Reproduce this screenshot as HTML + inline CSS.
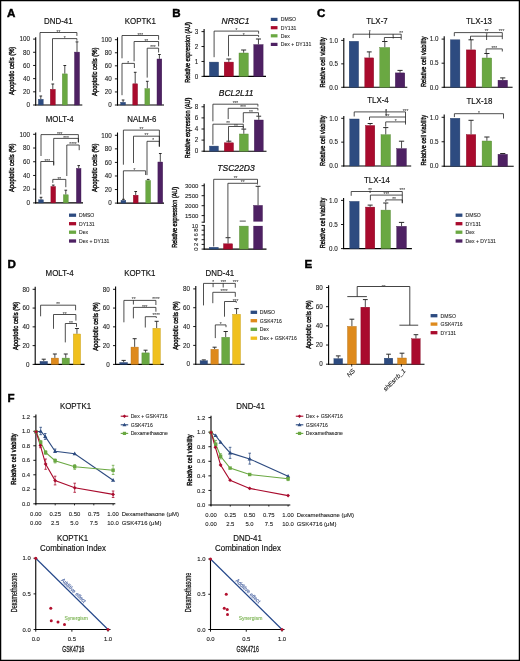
<!DOCTYPE html>
<html><head><meta charset="utf-8"><style>
html,body{margin:0;padding:0;background:#fff;}
svg{display:block;font-family:"Liberation Sans", sans-serif;will-change:transform;}
</style></head><body>
<svg width="520" height="661" viewBox="0 0 520 661">
<rect x="0" y="0" width="520" height="661" fill="#fff"/>
<text x="6.9" y="16.7" font-size="11.6" fill="#000" stroke="#000" stroke-width="0.45" font-weight="bold">A</text>
<text transform="translate(58.3,24) scale(0.915,1)" font-size="8.65" text-anchor="middle" fill="#111" stroke="#111" stroke-width="0.16">DND-41</text>
<line x1="35.7" y1="37.3" x2="35.7" y2="105.5" stroke="#000" stroke-width="1.1"/>
<line x1="33.1" y1="105" x2="35.7" y2="105" stroke="#000" stroke-width="0.9"/>
<text x="29.9" y="107.27" font-size="6.3" text-anchor="end" fill="#222" stroke="#222" stroke-width="0.1">0</text>
<line x1="33.1" y1="91.82" x2="35.7" y2="91.82" stroke="#000" stroke-width="0.9"/>
<text x="29.9" y="94.09" font-size="6.3" text-anchor="end" fill="#222" stroke="#222" stroke-width="0.1">20</text>
<line x1="33.1" y1="78.64" x2="35.7" y2="78.64" stroke="#000" stroke-width="0.9"/>
<text x="29.9" y="80.91" font-size="6.3" text-anchor="end" fill="#222" stroke="#222" stroke-width="0.1">40</text>
<line x1="33.1" y1="65.46" x2="35.7" y2="65.46" stroke="#000" stroke-width="0.9"/>
<text x="29.9" y="67.73" font-size="6.3" text-anchor="end" fill="#222" stroke="#222" stroke-width="0.1">60</text>
<line x1="33.1" y1="52.28" x2="35.7" y2="52.28" stroke="#000" stroke-width="0.9"/>
<text x="29.9" y="54.55" font-size="6.3" text-anchor="end" fill="#222" stroke="#222" stroke-width="0.1">80</text>
<line x1="33.1" y1="39.1" x2="35.7" y2="39.1" stroke="#000" stroke-width="0.9"/>
<text x="29.9" y="41.37" font-size="6.3" text-anchor="end" fill="#222" stroke="#222" stroke-width="0.1">100</text>
<line x1="35.15" y1="105" x2="82.3" y2="105" stroke="#000" stroke-width="1.1"/>
<text transform="translate(11.7,70.9) rotate(-90) scale(0.792,1)" y="2.66" font-size="7.4" text-anchor="middle" fill="#111" stroke="#111" stroke-width="0.42">Apoptotic cells (%)</text>
<line x1="40.8" y1="96" x2="40.8" y2="99.1" stroke="#2a2a2a" stroke-width="0.85"/>
<line x1="39.45" y1="96" x2="42.15" y2="96" stroke="#2a2a2a" stroke-width="1.0"/>
<rect x="38.4" y="99.3" width="4.8" height="5.7" fill="#2d4b80" stroke="#243c66" stroke-width="0.4"/>
<line x1="52.8" y1="84" x2="52.8" y2="89.1" stroke="#2a2a2a" stroke-width="0.85"/>
<line x1="51.4" y1="84" x2="54.2" y2="84" stroke="#2a2a2a" stroke-width="1.0"/>
<rect x="50.3" y="89.3" width="5" height="15.7" fill="#a90b2d" stroke="#870824" stroke-width="0.4"/>
<line x1="64.8" y1="65.5" x2="64.8" y2="73.7" stroke="#2a2a2a" stroke-width="0.85"/>
<line x1="63.4" y1="65.5" x2="66.2" y2="65.5" stroke="#2a2a2a" stroke-width="1.0"/>
<rect x="62.3" y="73.9" width="5" height="31.1" fill="#6aa842" stroke="#548634" stroke-width="0.4"/>
<line x1="77" y1="41.9" x2="77" y2="51.9" stroke="#2a2a2a" stroke-width="0.85"/>
<line x1="75.6" y1="41.9" x2="78.4" y2="41.9" stroke="#2a2a2a" stroke-width="1.0"/>
<rect x="74.5" y="52.1" width="5" height="52.9" fill="#4e2163" stroke="#3e1a4f" stroke-width="0.4"/>
<polyline points="40,92.1 40,32.5 76.9,32.5 76.9,35.9" fill="none" stroke="#222222" stroke-width="0.8"/>
<text x="58.45" y="33.6" font-size="4.7" text-anchor="middle" fill="#4a4a4a" stroke="#4a4a4a" stroke-width="0.08">**</text>
<polyline points="52.5,80.6 52.5,38.6 76.9,38.6 76.9,40.7" fill="none" stroke="#222222" stroke-width="0.8"/>
<text x="64.7" y="39.7" font-size="4.7" text-anchor="middle" fill="#4a4a4a" stroke="#4a4a4a" stroke-width="0.08">*</text>
<text transform="translate(140.4,24) scale(0.915,1)" font-size="8.65" text-anchor="middle" fill="#111" stroke="#111" stroke-width="0.16">KOPTK1</text>
<line x1="117.5" y1="37.3" x2="117.5" y2="105.5" stroke="#000" stroke-width="1.1"/>
<line x1="114.9" y1="105" x2="117.5" y2="105" stroke="#000" stroke-width="0.9"/>
<text x="111.7" y="107.27" font-size="6.3" text-anchor="end" fill="#222" stroke="#222" stroke-width="0.1">0</text>
<line x1="114.9" y1="91.94" x2="117.5" y2="91.94" stroke="#000" stroke-width="0.9"/>
<text x="111.7" y="94.21" font-size="6.3" text-anchor="end" fill="#222" stroke="#222" stroke-width="0.1">20</text>
<line x1="114.9" y1="78.88" x2="117.5" y2="78.88" stroke="#000" stroke-width="0.9"/>
<text x="111.7" y="81.15" font-size="6.3" text-anchor="end" fill="#222" stroke="#222" stroke-width="0.1">40</text>
<line x1="114.9" y1="65.82" x2="117.5" y2="65.82" stroke="#000" stroke-width="0.9"/>
<text x="111.7" y="68.09" font-size="6.3" text-anchor="end" fill="#222" stroke="#222" stroke-width="0.1">60</text>
<line x1="114.9" y1="52.76" x2="117.5" y2="52.76" stroke="#000" stroke-width="0.9"/>
<text x="111.7" y="55.03" font-size="6.3" text-anchor="end" fill="#222" stroke="#222" stroke-width="0.1">80</text>
<line x1="114.9" y1="39.7" x2="117.5" y2="39.7" stroke="#000" stroke-width="0.9"/>
<text x="111.7" y="41.97" font-size="6.3" text-anchor="end" fill="#222" stroke="#222" stroke-width="0.1">100</text>
<line x1="116.95" y1="105" x2="164" y2="105" stroke="#000" stroke-width="1.1"/>
<text transform="translate(94,71.8) rotate(-90) scale(0.792,1)" y="2.66" font-size="7.4" text-anchor="middle" fill="#111" stroke="#111" stroke-width="0.42">Apoptotic cells (%)</text>
<line x1="123.1" y1="100" x2="123.1" y2="102.1" stroke="#2a2a2a" stroke-width="0.85"/>
<line x1="121.75" y1="100" x2="124.45" y2="100" stroke="#2a2a2a" stroke-width="1.0"/>
<rect x="120.7" y="102.3" width="4.8" height="2.7" fill="#2d4b80" stroke="#243c66" stroke-width="0.4"/>
<line x1="135.2" y1="72.3" x2="135.2" y2="83.6" stroke="#2a2a2a" stroke-width="0.85"/>
<line x1="133.85" y1="72.3" x2="136.55" y2="72.3" stroke="#2a2a2a" stroke-width="1.0"/>
<rect x="132.8" y="83.8" width="4.8" height="21.2" fill="#a90b2d" stroke="#870824" stroke-width="0.4"/>
<line x1="147.3" y1="81.3" x2="147.3" y2="88.4" stroke="#2a2a2a" stroke-width="0.85"/>
<line x1="145.95" y1="81.3" x2="148.65" y2="81.3" stroke="#2a2a2a" stroke-width="1.0"/>
<rect x="144.9" y="88.6" width="4.8" height="16.4" fill="#6aa842" stroke="#548634" stroke-width="0.4"/>
<line x1="159.4" y1="54.5" x2="159.4" y2="58.8" stroke="#2a2a2a" stroke-width="0.85"/>
<line x1="158.05" y1="54.5" x2="160.75" y2="54.5" stroke="#2a2a2a" stroke-width="1.0"/>
<rect x="157" y="59" width="4.8" height="46" fill="#4e2163" stroke="#3e1a4f" stroke-width="0.4"/>
<polyline points="122,58.3 122,35.5 158.6,35.5 158.6,39.8" fill="none" stroke="#222222" stroke-width="0.8"/>
<text x="140.3" y="36.6" font-size="4.7" text-anchor="middle" fill="#4a4a4a" stroke="#4a4a4a" stroke-width="0.08">***</text>
<polyline points="134.1,61.3 134.1,41.5 158.6,41.5 158.6,46.4" fill="none" stroke="#222222" stroke-width="0.8"/>
<text x="146.35" y="42.6" font-size="4.7" text-anchor="middle" fill="#4a4a4a" stroke="#4a4a4a" stroke-width="0.08">**</text>
<polyline points="147.2,77.6 147.2,48.2 158.6,48.2 158.6,52.5" fill="none" stroke="#222222" stroke-width="0.8"/>
<text x="152.9" y="49.3" font-size="4.7" text-anchor="middle" fill="#4a4a4a" stroke="#4a4a4a" stroke-width="0.08">***</text>
<polyline points="122,95.2 122,63.4 134.4,63.4 134.4,68" fill="none" stroke="#222222" stroke-width="0.8"/>
<text x="128.2" y="64.5" font-size="4.7" text-anchor="middle" fill="#4a4a4a" stroke="#4a4a4a" stroke-width="0.08">*</text>
<text transform="translate(59.7,121.8) scale(0.915,1)" font-size="8.65" text-anchor="middle" fill="#111" stroke="#111" stroke-width="0.16">MOLT-4</text>
<line x1="35.7" y1="132.5" x2="35.7" y2="203.4" stroke="#000" stroke-width="1.1"/>
<line x1="33.1" y1="202.9" x2="35.7" y2="202.9" stroke="#000" stroke-width="0.9"/>
<text x="29.9" y="205.17" font-size="6.3" text-anchor="end" fill="#222" stroke="#222" stroke-width="0.1">0</text>
<line x1="33.1" y1="189.18" x2="35.7" y2="189.18" stroke="#000" stroke-width="0.9"/>
<text x="29.9" y="191.45" font-size="6.3" text-anchor="end" fill="#222" stroke="#222" stroke-width="0.1">20</text>
<line x1="33.1" y1="175.46" x2="35.7" y2="175.46" stroke="#000" stroke-width="0.9"/>
<text x="29.9" y="177.73" font-size="6.3" text-anchor="end" fill="#222" stroke="#222" stroke-width="0.1">40</text>
<line x1="33.1" y1="161.74" x2="35.7" y2="161.74" stroke="#000" stroke-width="0.9"/>
<text x="29.9" y="164.01" font-size="6.3" text-anchor="end" fill="#222" stroke="#222" stroke-width="0.1">60</text>
<line x1="33.1" y1="148.02" x2="35.7" y2="148.02" stroke="#000" stroke-width="0.9"/>
<text x="29.9" y="150.29" font-size="6.3" text-anchor="end" fill="#222" stroke="#222" stroke-width="0.1">80</text>
<line x1="33.1" y1="134.3" x2="35.7" y2="134.3" stroke="#000" stroke-width="0.9"/>
<text x="29.9" y="136.57" font-size="6.3" text-anchor="end" fill="#222" stroke="#222" stroke-width="0.1">100</text>
<line x1="35.15" y1="202.9" x2="83" y2="202.9" stroke="#000" stroke-width="1.1"/>
<text transform="translate(11.7,167.7) rotate(-90) scale(0.792,1)" y="2.66" font-size="7.4" text-anchor="middle" fill="#111" stroke="#111" stroke-width="0.42">Apoptotic cells (%)</text>
<line x1="41" y1="197.3" x2="41" y2="199.6" stroke="#2a2a2a" stroke-width="0.85"/>
<line x1="39.65" y1="197.3" x2="42.35" y2="197.3" stroke="#2a2a2a" stroke-width="1.0"/>
<rect x="38.6" y="199.8" width="4.8" height="3.1" fill="#2d4b80" stroke="#243c66" stroke-width="0.4"/>
<line x1="53.25" y1="185.1" x2="53.25" y2="186.3" stroke="#2a2a2a" stroke-width="0.85"/>
<line x1="51.92" y1="185.1" x2="54.58" y2="185.1" stroke="#2a2a2a" stroke-width="1.0"/>
<rect x="50.9" y="186.5" width="4.7" height="16.4" fill="#a90b2d" stroke="#870824" stroke-width="0.4"/>
<line x1="65.8" y1="190.2" x2="65.8" y2="194.6" stroke="#2a2a2a" stroke-width="0.85"/>
<line x1="64.45" y1="190.2" x2="67.15" y2="190.2" stroke="#2a2a2a" stroke-width="1.0"/>
<rect x="63.4" y="194.8" width="4.8" height="8.1" fill="#6aa842" stroke="#548634" stroke-width="0.4"/>
<line x1="78.7" y1="165.6" x2="78.7" y2="168.2" stroke="#2a2a2a" stroke-width="0.85"/>
<line x1="77.4" y1="165.6" x2="80" y2="165.6" stroke="#2a2a2a" stroke-width="1.0"/>
<rect x="76.4" y="168.4" width="4.6" height="34.5" fill="#4e2163" stroke="#3e1a4f" stroke-width="0.4"/>
<polyline points="41,156 41,134.6 78.4,134.6 78.4,142.4" fill="none" stroke="#222222" stroke-width="0.8"/>
<text x="59.7" y="135.7" font-size="4.7" text-anchor="middle" fill="#4a4a4a" stroke="#4a4a4a" stroke-width="0.08">***</text>
<polyline points="53.7,164.7 53.7,138.4 78.4,138.4 78.4,142.4" fill="none" stroke="#222222" stroke-width="0.8"/>
<text x="66.05" y="139.5" font-size="4.7" text-anchor="middle" fill="#4a4a4a" stroke="#4a4a4a" stroke-width="0.08">***</text>
<polyline points="66.8,176 66.8,145 79.2,145 79.2,150.2" fill="none" stroke="#222222" stroke-width="0.8"/>
<text x="73" y="146.1" font-size="4.7" text-anchor="middle" fill="#4a4a4a" stroke="#4a4a4a" stroke-width="0.08">****</text>
<polyline points="40.8,194.4 40.8,161.5 53.7,161.5 53.7,165.6" fill="none" stroke="#222222" stroke-width="0.8"/>
<text x="47.25" y="162.6" font-size="4.7" text-anchor="middle" fill="#4a4a4a" stroke="#4a4a4a" stroke-width="0.08">***</text>
<polyline points="52.8,182.9 52.8,179.4 65.8,179.4 65.8,187.2" fill="none" stroke="#222222" stroke-width="0.8"/>
<text x="59.3" y="180.5" font-size="4.7" text-anchor="middle" fill="#4a4a4a" stroke="#4a4a4a" stroke-width="0.08">**</text>
<text transform="translate(141.8,121.8) scale(0.915,1)" font-size="8.65" text-anchor="middle" fill="#111" stroke="#111" stroke-width="0.16">NALM-6</text>
<line x1="117.5" y1="132.5" x2="117.5" y2="203.6" stroke="#000" stroke-width="1.1"/>
<line x1="114.9" y1="203.1" x2="117.5" y2="203.1" stroke="#000" stroke-width="0.9"/>
<text x="111.7" y="205.37" font-size="6.3" text-anchor="end" fill="#222" stroke="#222" stroke-width="0.1">0</text>
<line x1="114.9" y1="189.54" x2="117.5" y2="189.54" stroke="#000" stroke-width="0.9"/>
<text x="111.7" y="191.81" font-size="6.3" text-anchor="end" fill="#222" stroke="#222" stroke-width="0.1">20</text>
<line x1="114.9" y1="175.98" x2="117.5" y2="175.98" stroke="#000" stroke-width="0.9"/>
<text x="111.7" y="178.25" font-size="6.3" text-anchor="end" fill="#222" stroke="#222" stroke-width="0.1">40</text>
<line x1="114.9" y1="162.42" x2="117.5" y2="162.42" stroke="#000" stroke-width="0.9"/>
<text x="111.7" y="164.69" font-size="6.3" text-anchor="end" fill="#222" stroke="#222" stroke-width="0.1">60</text>
<line x1="114.9" y1="148.86" x2="117.5" y2="148.86" stroke="#000" stroke-width="0.9"/>
<text x="111.7" y="151.13" font-size="6.3" text-anchor="end" fill="#222" stroke="#222" stroke-width="0.1">80</text>
<line x1="114.9" y1="135.3" x2="117.5" y2="135.3" stroke="#000" stroke-width="0.9"/>
<text x="111.7" y="137.57" font-size="6.3" text-anchor="end" fill="#222" stroke="#222" stroke-width="0.1">100</text>
<line x1="116.95" y1="203.1" x2="164" y2="203.1" stroke="#000" stroke-width="1.1"/>
<text transform="translate(94,167.7) rotate(-90) scale(0.792,1)" y="2.66" font-size="7.4" text-anchor="middle" fill="#111" stroke="#111" stroke-width="0.42">Apoptotic cells (%)</text>
<line x1="123.4" y1="199.3" x2="123.4" y2="200.2" stroke="#2a2a2a" stroke-width="0.85"/>
<line x1="122.05" y1="199.3" x2="124.75" y2="199.3" stroke="#2a2a2a" stroke-width="1.0"/>
<rect x="121" y="200.4" width="4.8" height="2.7" fill="#2d4b80" stroke="#243c66" stroke-width="0.4"/>
<line x1="135.7" y1="191.5" x2="135.7" y2="195" stroke="#2a2a2a" stroke-width="0.85"/>
<line x1="134.35" y1="191.5" x2="137.05" y2="191.5" stroke="#2a2a2a" stroke-width="1.0"/>
<rect x="133.3" y="195.2" width="4.8" height="7.9" fill="#a90b2d" stroke="#870824" stroke-width="0.4"/>
<line x1="148.2" y1="179.4" x2="148.2" y2="180.3" stroke="#2a2a2a" stroke-width="0.85"/>
<line x1="146.85" y1="179.4" x2="149.55" y2="179.4" stroke="#2a2a2a" stroke-width="1.0"/>
<rect x="145.8" y="180.5" width="4.8" height="22.6" fill="#6aa842" stroke="#548634" stroke-width="0.4"/>
<line x1="160.3" y1="153.5" x2="160.3" y2="161.8" stroke="#2a2a2a" stroke-width="0.85"/>
<line x1="158.95" y1="153.5" x2="161.65" y2="153.5" stroke="#2a2a2a" stroke-width="1.0"/>
<rect x="157.9" y="162" width="4.8" height="41.1" fill="#4e2163" stroke="#3e1a4f" stroke-width="0.4"/>
<polyline points="123.4,164.7 123.4,130.1 159.4,130.1 159.4,146.5" fill="none" stroke="#222222" stroke-width="0.8"/>
<text x="141.4" y="131.2" font-size="4.7" text-anchor="middle" fill="#4a4a4a" stroke="#4a4a4a" stroke-width="0.08">**</text>
<polyline points="133.5,163 133.5,136.2 159.4,136.2 159.4,146.5" fill="none" stroke="#222222" stroke-width="0.8"/>
<text x="146.45" y="137.3" font-size="4.7" text-anchor="middle" fill="#4a4a4a" stroke="#4a4a4a" stroke-width="0.08">**</text>
<polyline points="147,175.1 147,141.3 159.4,141.3 159.4,146.5" fill="none" stroke="#222222" stroke-width="0.8"/>
<text x="153.2" y="142.4" font-size="4.7" text-anchor="middle" fill="#4a4a4a" stroke="#4a4a4a" stroke-width="0.08">*</text>
<polyline points="123.4,199.3 123.4,170.8 145.6,170.8 145.6,175" fill="none" stroke="#222222" stroke-width="0.8"/>
<text x="134.5" y="171.9" font-size="4.7" text-anchor="middle" fill="#4a4a4a" stroke="#4a4a4a" stroke-width="0.08">*</text>
<rect x="69" y="213.55" width="7.1" height="3.3" fill="#2d4b80"/>
<text x="79" y="217.04" font-size="5.1" fill="#222" stroke="#222" stroke-width="0.08">DMSO</text>
<rect x="69" y="222.05" width="7.1" height="3.3" fill="#a90b2d"/>
<text x="79" y="225.54" font-size="5.1" fill="#222" stroke="#222" stroke-width="0.08">DY131</text>
<rect x="69" y="230.55" width="7.1" height="3.3" fill="#6aa842"/>
<text x="79" y="234.04" font-size="5.1" fill="#222" stroke="#222" stroke-width="0.08">Dex</text>
<rect x="69" y="239.35" width="7.1" height="3.3" fill="#4e2163"/>
<text x="79" y="242.84" font-size="5.1" fill="#222" stroke="#222" stroke-width="0.08">Dex + DY131</text>
<text x="172.3" y="16.8" font-size="11.6" fill="#000" stroke="#000" stroke-width="0.45" font-weight="bold">B</text>
<text x="235.5" y="23.7" font-size="8.5" text-anchor="middle" fill="#111" stroke="#111" stroke-width="0.22" font-style="italic">NR3C1</text>
<line x1="204.1" y1="28.9" x2="204.1" y2="76.9" stroke="#000" stroke-width="1.1"/>
<line x1="201.5" y1="76.4" x2="204.1" y2="76.4" stroke="#000" stroke-width="0.9"/>
<text x="198.3" y="78.67" font-size="6.3" text-anchor="end" fill="#222" stroke="#222" stroke-width="0.1">0</text>
<line x1="201.5" y1="61.47" x2="204.1" y2="61.47" stroke="#000" stroke-width="0.9"/>
<text x="198.3" y="63.73" font-size="6.3" text-anchor="end" fill="#222" stroke="#222" stroke-width="0.1">1</text>
<line x1="201.5" y1="46.53" x2="204.1" y2="46.53" stroke="#000" stroke-width="0.9"/>
<text x="198.3" y="48.8" font-size="6.3" text-anchor="end" fill="#222" stroke="#222" stroke-width="0.1">2</text>
<line x1="201.5" y1="31.6" x2="204.1" y2="31.6" stroke="#000" stroke-width="0.9"/>
<text x="198.3" y="33.87" font-size="6.3" text-anchor="end" fill="#222" stroke="#222" stroke-width="0.1">3</text>
<line x1="203.55" y1="76.4" x2="266" y2="76.4" stroke="#000" stroke-width="1.1"/>
<text transform="translate(187,52.5) rotate(-90) scale(0.740,1)" y="2.66" font-size="7.4" text-anchor="middle" fill="#111" stroke="#111" stroke-width="0.42">Relative expression (AU)</text>
<rect x="209.4" y="62.1" width="9.2" height="14.3" fill="#2d4b80" stroke="#243c66" stroke-width="0.4"/>
<line x1="228.8" y1="59" x2="228.8" y2="61.9" stroke="#2a2a2a" stroke-width="0.85"/>
<line x1="226.3" y1="59" x2="231.3" y2="59" stroke="#2a2a2a" stroke-width="1.0"/>
<rect x="224.2" y="62.1" width="9.2" height="14.3" fill="#a90b2d" stroke="#870824" stroke-width="0.4"/>
<line x1="243.65" y1="50" x2="243.65" y2="52.8" stroke="#2a2a2a" stroke-width="0.85"/>
<line x1="241.13" y1="50" x2="246.17" y2="50" stroke="#2a2a2a" stroke-width="1.0"/>
<rect x="239" y="53" width="9.3" height="23.4" fill="#6aa842" stroke="#548634" stroke-width="0.4"/>
<line x1="258.45" y1="39" x2="258.45" y2="44.4" stroke="#2a2a2a" stroke-width="0.85"/>
<line x1="255.93" y1="39" x2="260.97" y2="39" stroke="#2a2a2a" stroke-width="1.0"/>
<rect x="253.8" y="44.6" width="9.3" height="31.8" fill="#4e2163" stroke="#3e1a4f" stroke-width="0.4"/>
<polyline points="214.1,57.2 214.1,31.1 258.6,31.1 258.6,33.7" fill="none" stroke="#222222" stroke-width="0.8"/>
<text x="236.35" y="32.2" font-size="4.7" text-anchor="middle" fill="#4a4a4a" stroke="#4a4a4a" stroke-width="0.08">*</text>
<polyline points="228.5,56.3 228.5,35.4 258.6,35.4 258.6,37.1" fill="none" stroke="#222222" stroke-width="0.8"/>
<text x="243.55" y="36.5" font-size="4.7" text-anchor="middle" fill="#4a4a4a" stroke="#4a4a4a" stroke-width="0.08">*</text>
<rect x="270.8" y="17.8" width="6.7" height="3.2" fill="#2d4b80"/>
<text x="280.8" y="21.24" font-size="5.1" fill="#222" stroke="#222" stroke-width="0.08">DMSO</text>
<rect x="270.8" y="26.1" width="6.7" height="3.2" fill="#a90b2d"/>
<text x="280.8" y="29.54" font-size="5.1" fill="#222" stroke="#222" stroke-width="0.08">DY131</text>
<rect x="270.8" y="34.2" width="6.7" height="3.2" fill="#6aa842"/>
<text x="280.8" y="37.64" font-size="5.1" fill="#222" stroke="#222" stroke-width="0.08">Dex</text>
<rect x="270.8" y="42.8" width="6.7" height="3.2" fill="#4e2163"/>
<text x="280.8" y="46.24" font-size="5.1" fill="#222" stroke="#222" stroke-width="0.08">Dex + DY131</text>
<text x="236.2" y="95.7" font-size="8.5" text-anchor="middle" fill="#111" stroke="#111" stroke-width="0.22" font-style="italic">BCL2L11</text>
<line x1="204.1" y1="104" x2="204.1" y2="151.7" stroke="#000" stroke-width="1.1"/>
<line x1="201.5" y1="151.2" x2="204.1" y2="151.2" stroke="#000" stroke-width="0.9"/>
<text x="198.3" y="153.47" font-size="6.3" text-anchor="end" fill="#222" stroke="#222" stroke-width="0.1">0</text>
<line x1="201.5" y1="140.1" x2="204.1" y2="140.1" stroke="#000" stroke-width="0.9"/>
<text x="198.3" y="142.37" font-size="6.3" text-anchor="end" fill="#222" stroke="#222" stroke-width="0.1">2</text>
<line x1="201.5" y1="129" x2="204.1" y2="129" stroke="#000" stroke-width="0.9"/>
<text x="198.3" y="131.27" font-size="6.3" text-anchor="end" fill="#222" stroke="#222" stroke-width="0.1">4</text>
<line x1="201.5" y1="117.9" x2="204.1" y2="117.9" stroke="#000" stroke-width="0.9"/>
<text x="198.3" y="120.17" font-size="6.3" text-anchor="end" fill="#222" stroke="#222" stroke-width="0.1">6</text>
<line x1="201.5" y1="106.8" x2="204.1" y2="106.8" stroke="#000" stroke-width="0.9"/>
<text x="198.3" y="109.07" font-size="6.3" text-anchor="end" fill="#222" stroke="#222" stroke-width="0.1">8</text>
<line x1="203.55" y1="151.2" x2="266.5" y2="151.2" stroke="#000" stroke-width="1.1"/>
<text transform="translate(186.9,128) rotate(-90) scale(0.740,1)" y="2.66" font-size="7.4" text-anchor="middle" fill="#111" stroke="#111" stroke-width="0.42">Relative expression (AU)</text>
<rect x="209.5" y="146.1" width="8.9" height="5.1" fill="#2d4b80" stroke="#243c66" stroke-width="0.4"/>
<line x1="228.9" y1="141.2" x2="228.9" y2="142.6" stroke="#2a2a2a" stroke-width="0.85"/>
<line x1="226.4" y1="141.2" x2="231.4" y2="141.2" stroke="#2a2a2a" stroke-width="1.0"/>
<rect x="224.3" y="142.8" width="9.2" height="8.4" fill="#a90b2d" stroke="#870824" stroke-width="0.4"/>
<line x1="243.8" y1="129.1" x2="243.8" y2="133.8" stroke="#2a2a2a" stroke-width="0.85"/>
<line x1="241.41" y1="129.1" x2="246.19" y2="129.1" stroke="#2a2a2a" stroke-width="1.0"/>
<rect x="239.4" y="134" width="8.8" height="17.2" fill="#6aa842" stroke="#548634" stroke-width="0.4"/>
<line x1="258.75" y1="116.2" x2="258.75" y2="119.8" stroke="#2a2a2a" stroke-width="0.85"/>
<line x1="256.33" y1="116.2" x2="261.17" y2="116.2" stroke="#2a2a2a" stroke-width="1.0"/>
<rect x="254.3" y="120" width="8.9" height="31.2" fill="#4e2163" stroke="#3e1a4f" stroke-width="0.4"/>
<polyline points="212.9,121.3 212.9,104.2 257.9,104.2 257.9,106.5" fill="none" stroke="#222222" stroke-width="0.8"/>
<text x="235.4" y="105.3" font-size="4.7" text-anchor="middle" fill="#4a4a4a" stroke="#4a4a4a" stroke-width="0.08">***</text>
<polyline points="228.2,119.1 228.2,108.3 257.9,108.3 257.9,110.4" fill="none" stroke="#222222" stroke-width="0.8"/>
<text x="243.05" y="109.4" font-size="4.7" text-anchor="middle" fill="#4a4a4a" stroke="#4a4a4a" stroke-width="0.08">***</text>
<polyline points="243.3,122.7 243.3,112.7 258.5,112.7 258.5,115.8" fill="none" stroke="#222222" stroke-width="0.8"/>
<text x="250.9" y="113.8" font-size="4.7" text-anchor="middle" fill="#4a4a4a" stroke="#4a4a4a" stroke-width="0.08">**</text>
<polyline points="212.9,144.7 212.9,124.2 243.3,124.2 243.3,127.7" fill="none" stroke="#222222" stroke-width="0.8"/>
<text x="228.1" y="125.3" font-size="4.7" text-anchor="middle" fill="#4a4a4a" stroke="#4a4a4a" stroke-width="0.08">**</text>
<polyline points="228.5,141.2 228.5,126.5 243.3,126.5 243.3,128.8" fill="none" stroke="#222222" stroke-width="0.8"/>
<text x="235.9" y="127.6" font-size="4.7" text-anchor="middle" fill="#4a4a4a" stroke="#4a4a4a" stroke-width="0.08">**</text>
<text x="236" y="170.9" font-size="8.5" text-anchor="middle" fill="#111" stroke="#111" stroke-width="0.22" font-style="italic">TSC22D3</text>
<line x1="204.2" y1="183.5" x2="204.2" y2="222.7" stroke="#000" stroke-width="1.1"/>
<line x1="201.6" y1="185.7" x2="204.2" y2="185.7" stroke="#000" stroke-width="0.9"/>
<text x="198.4" y="187.86" font-size="6.0" text-anchor="end" fill="#222" stroke="#222" stroke-width="0.1">3000</text>
<line x1="201.6" y1="195.7" x2="204.2" y2="195.7" stroke="#000" stroke-width="0.9"/>
<text x="198.4" y="197.86" font-size="6.0" text-anchor="end" fill="#222" stroke="#222" stroke-width="0.1">2500</text>
<line x1="201.6" y1="205.7" x2="204.2" y2="205.7" stroke="#000" stroke-width="0.9"/>
<text x="198.4" y="207.86" font-size="6.0" text-anchor="end" fill="#222" stroke="#222" stroke-width="0.1">2000</text>
<line x1="201.6" y1="215.6" x2="204.2" y2="215.6" stroke="#000" stroke-width="0.9"/>
<text x="198.4" y="217.76" font-size="6.0" text-anchor="end" fill="#222" stroke="#222" stroke-width="0.1">1500</text>
<line x1="201.6" y1="222.2" x2="204.2" y2="222.2" stroke="#000" stroke-width="0.9"/>
<line x1="204.2" y1="225.1" x2="204.2" y2="249.6" stroke="#000" stroke-width="1.1"/>
<line x1="201.6" y1="225.4" x2="204.2" y2="225.4" stroke="#000" stroke-width="0.9"/>
<line x1="201.6" y1="230.2" x2="204.2" y2="230.2" stroke="#000" stroke-width="0.9"/>
<line x1="201.6" y1="234.9" x2="204.2" y2="234.9" stroke="#000" stroke-width="0.9"/>
<line x1="201.6" y1="239.7" x2="204.2" y2="239.7" stroke="#000" stroke-width="0.9"/>
<line x1="201.6" y1="244.4" x2="204.2" y2="244.4" stroke="#000" stroke-width="0.9"/>
<line x1="201.6" y1="249.1" x2="204.2" y2="249.1" stroke="#000" stroke-width="0.9"/>
<text x="198" y="227.6" font-size="5.6" text-anchor="end" fill="#222" stroke="#222" stroke-width="0.1">10</text>
<text transform="translate(196.3,230.2) rotate(-90)" y="2.1" font-size="6" text-anchor="middle" fill="#222" stroke="#222" stroke-width="0.1">8</text>
<text transform="translate(196.3,234.9) rotate(-90)" y="2.1" font-size="6" text-anchor="middle" fill="#222" stroke="#222" stroke-width="0.1">6</text>
<text transform="translate(196.3,239.7) rotate(-90)" y="2.1" font-size="6" text-anchor="middle" fill="#222" stroke="#222" stroke-width="0.1">4</text>
<text transform="translate(196.3,244.4) rotate(-90)" y="2.1" font-size="6" text-anchor="middle" fill="#222" stroke="#222" stroke-width="0.1">2</text>
<text transform="translate(196.3,249.1) rotate(-90)" y="2.1" font-size="6" text-anchor="middle" fill="#222" stroke="#222" stroke-width="0.1">0</text>
<line x1="203.65" y1="249.1" x2="266.5" y2="249.1" stroke="#000" stroke-width="1.1"/>
<text transform="translate(174.5,217.4) rotate(-90) scale(0.745,1)" y="2.66" font-size="7.4" text-anchor="middle" fill="#111" stroke="#111" stroke-width="0.42">Relative expression (AU)</text>
<rect x="209.3" y="247.3" width="8.9" height="1.8" fill="#2d4b80" stroke="#243c66" stroke-width="0.4"/>
<line x1="228.05" y1="237.7" x2="228.05" y2="243.6" stroke="#2a2a2a" stroke-width="0.85"/>
<line x1="225.58" y1="237.7" x2="230.52" y2="237.7" stroke="#2a2a2a" stroke-width="1.0"/>
<rect x="223.5" y="243.8" width="9.1" height="5.3" fill="#a90b2d" stroke="#870824" stroke-width="0.4"/>
<rect x="239.4" y="226.1" width="8.8" height="23" fill="#6aa842" stroke="#548634" stroke-width="0.4"/>
<line x1="258.05" y1="186.3" x2="258.05" y2="205.2" stroke="#2a2a2a" stroke-width="0.85"/>
<line x1="255.63" y1="186.3" x2="260.47" y2="186.3" stroke="#2a2a2a" stroke-width="1.0"/>
<rect x="253.6" y="205.4" width="8.9" height="43.7" fill="#4e2163" stroke="#3e1a4f" stroke-width="0.4"/>
<rect x="250" y="221.6" width="16" height="4.3" fill="#fff"/>
<line x1="239.7" y1="221.1" x2="245.8" y2="221.1" stroke="#222" stroke-width="0.8"/>
<polyline points="213.7,246.4 213.7,179.3 257.5,179.3 257.5,183.1" fill="none" stroke="#222222" stroke-width="0.8"/>
<text x="235.6" y="180.4" font-size="4.7" text-anchor="middle" fill="#4a4a4a" stroke="#4a4a4a" stroke-width="0.08">**</text>
<polyline points="227.9,237.2 227.9,183.3 257.5,183.3 257.5,184.5" fill="none" stroke="#222222" stroke-width="0.8"/>
<text x="242.7" y="184.4" font-size="4.7" text-anchor="middle" fill="#4a4a4a" stroke="#4a4a4a" stroke-width="0.08">**</text>
<text x="317" y="16.6" font-size="11.6" fill="#000" stroke="#000" stroke-width="0.45" font-weight="bold">C</text>
<text transform="translate(376.9,23.9) scale(0.915,1)" font-size="8.65" text-anchor="middle" fill="#111" stroke="#111" stroke-width="0.16">TLX-7</text>
<line x1="343.8" y1="38" x2="343.8" y2="87.8" stroke="#000" stroke-width="1.1"/>
<line x1="341.2" y1="87.3" x2="343.8" y2="87.3" stroke="#000" stroke-width="0.9"/>
<text x="338" y="89.57" font-size="6.3" text-anchor="end" fill="#222" stroke="#222" stroke-width="0.1">0.0</text>
<line x1="341.2" y1="63.85" x2="343.8" y2="63.85" stroke="#000" stroke-width="0.9"/>
<text x="338" y="66.12" font-size="6.3" text-anchor="end" fill="#222" stroke="#222" stroke-width="0.1">0.5</text>
<line x1="341.2" y1="40.4" x2="343.8" y2="40.4" stroke="#000" stroke-width="0.9"/>
<text x="338" y="42.67" font-size="6.3" text-anchor="end" fill="#222" stroke="#222" stroke-width="0.1">1.0</text>
<line x1="343.25" y1="87.3" x2="407.3" y2="87.3" stroke="#000" stroke-width="1.1"/>
<text transform="translate(322.5,62.35) rotate(-90) scale(0.763,1)" y="2.66" font-size="7.4" text-anchor="middle" fill="#111" stroke="#111" stroke-width="0.42">Relative cell viability</text>
<rect x="349.2" y="41.3" width="9.4" height="46" fill="#2d4b80" stroke="#243c66" stroke-width="0.4"/>
<line x1="369.25" y1="51.9" x2="369.25" y2="57.7" stroke="#2a2a2a" stroke-width="0.85"/>
<line x1="366.83" y1="51.9" x2="371.67" y2="51.9" stroke="#2a2a2a" stroke-width="1.0"/>
<rect x="364.8" y="57.9" width="8.9" height="29.4" fill="#a90b2d" stroke="#870824" stroke-width="0.4"/>
<line x1="384.8" y1="41.5" x2="384.8" y2="47.3" stroke="#2a2a2a" stroke-width="0.85"/>
<line x1="382.1" y1="41.5" x2="387.5" y2="41.5" stroke="#2a2a2a" stroke-width="1.0"/>
<rect x="379.8" y="47.5" width="10" height="39.8" fill="#6aa842" stroke="#548634" stroke-width="0.4"/>
<line x1="400.05" y1="70.4" x2="400.05" y2="72.7" stroke="#2a2a2a" stroke-width="0.85"/>
<line x1="397.48" y1="70.4" x2="402.62" y2="70.4" stroke="#2a2a2a" stroke-width="1.0"/>
<rect x="395.3" y="72.9" width="9.5" height="14.4" fill="#4e2163" stroke="#3e1a4f" stroke-width="0.4"/>
<polyline points="353.1,38.1 353.1,34.2 401.2,34.2 401.2,39.8" fill="none" stroke="#222222" stroke-width="0.8"/>
<line x1="369.6" y1="31.7" x2="369.6" y2="38.1" stroke="#222222" stroke-width="0.8"/>
<polyline points="384.4,41.2 384.4,37.5 401.2,37.5 401.2,37.5" fill="none" stroke="#222222" stroke-width="0.8"/>
<line x1="393.2" y1="35.6" x2="393.2" y2="38.5" stroke="#222222" stroke-width="0.8"/>
<text x="401.2" y="34.9" font-size="4.7" text-anchor="middle" fill="#4a4a4a" stroke="#4a4a4a" stroke-width="0.08">**</text>
<text x="369.6" y="33.7" font-size="4.7" text-anchor="middle" fill="#4a4a4a" stroke="#4a4a4a" stroke-width="0.08">*</text>
<text x="393.2" y="37.5" font-size="4.7" text-anchor="middle" fill="#4a4a4a" stroke="#4a4a4a" stroke-width="0.08">*</text>
<text transform="translate(479,24) scale(0.915,1)" font-size="8.65" text-anchor="middle" fill="#111" stroke="#111" stroke-width="0.16">TLX-13</text>
<line x1="444.2" y1="36.2" x2="444.2" y2="87.8" stroke="#000" stroke-width="1.1"/>
<line x1="441.6" y1="87.3" x2="444.2" y2="87.3" stroke="#000" stroke-width="0.9"/>
<text x="438.4" y="89.57" font-size="6.3" text-anchor="end" fill="#222" stroke="#222" stroke-width="0.1">0.0</text>
<line x1="441.6" y1="63.2" x2="444.2" y2="63.2" stroke="#000" stroke-width="0.9"/>
<text x="438.4" y="65.47" font-size="6.3" text-anchor="end" fill="#222" stroke="#222" stroke-width="0.1">0.5</text>
<line x1="441.6" y1="39.1" x2="444.2" y2="39.1" stroke="#000" stroke-width="0.9"/>
<text x="438.4" y="41.37" font-size="6.3" text-anchor="end" fill="#222" stroke="#222" stroke-width="0.1">1.0</text>
<line x1="443.65" y1="87.3" x2="512.6" y2="87.3" stroke="#000" stroke-width="1.1"/>
<text transform="translate(422.9,61.7) rotate(-90) scale(0.763,1)" y="2.66" font-size="7.4" text-anchor="middle" fill="#111" stroke="#111" stroke-width="0.42">Relative cell viability</text>
<rect x="450.4" y="39.8" width="9.5" height="47.5" fill="#2d4b80" stroke="#243c66" stroke-width="0.4"/>
<line x1="471.05" y1="39.8" x2="471.05" y2="49.7" stroke="#2a2a2a" stroke-width="0.85"/>
<line x1="468.48" y1="39.8" x2="473.62" y2="39.8" stroke="#2a2a2a" stroke-width="1.0"/>
<rect x="466.3" y="49.9" width="9.5" height="37.4" fill="#a90b2d" stroke="#870824" stroke-width="0.4"/>
<line x1="486.9" y1="53.5" x2="486.9" y2="57.8" stroke="#2a2a2a" stroke-width="0.85"/>
<line x1="484.3" y1="53.5" x2="489.5" y2="53.5" stroke="#2a2a2a" stroke-width="1.0"/>
<rect x="482.1" y="58" width="9.6" height="29.3" fill="#6aa842" stroke="#548634" stroke-width="0.4"/>
<line x1="502.75" y1="77.9" x2="502.75" y2="80" stroke="#2a2a2a" stroke-width="0.85"/>
<line x1="500.18" y1="77.9" x2="505.32" y2="77.9" stroke="#2a2a2a" stroke-width="1.0"/>
<rect x="498" y="80.2" width="9.5" height="7.1" fill="#4e2163" stroke="#3e1a4f" stroke-width="0.4"/>
<polyline points="454.3,36.2 454.3,32.6 502.3,32.6 502.3,39.2" fill="none" stroke="#222222" stroke-width="0.8"/>
<polyline points="470.5,40 470.5,36.2 502.3,36.2 502.3,36.2" fill="none" stroke="#222222" stroke-width="0.8"/>
<line x1="486.6" y1="34.6" x2="486.6" y2="40" stroke="#222222" stroke-width="0.8"/>
<polyline points="486.2,53.1 486.2,48.9 502.3,48.9 502.3,51.5" fill="none" stroke="#222222" stroke-width="0.8"/>
<text x="494.25" y="50" font-size="4.7" text-anchor="middle" fill="#4a4a4a" stroke="#4a4a4a" stroke-width="0.08">***</text>
<text x="486.6" y="33.3" font-size="4.7" text-anchor="middle" fill="#4a4a4a" stroke="#4a4a4a" stroke-width="0.08">**</text>
<text x="501.5" y="33.3" font-size="4.7" text-anchor="middle" fill="#4a4a4a" stroke="#4a4a4a" stroke-width="0.08">***</text>
<text x="486.6" y="36.9" font-size="4.7" text-anchor="middle" fill="#4a4a4a" stroke="#4a4a4a" stroke-width="0.08">*</text>
<text transform="translate(378,103.4) scale(0.915,1)" font-size="8.65" text-anchor="middle" fill="#111" stroke="#111" stroke-width="0.16">TLX-4</text>
<line x1="343.8" y1="116" x2="343.8" y2="166.5" stroke="#000" stroke-width="1.1"/>
<line x1="341.2" y1="166" x2="343.8" y2="166" stroke="#000" stroke-width="0.9"/>
<text x="338" y="168.27" font-size="6.3" text-anchor="end" fill="#222" stroke="#222" stroke-width="0.1">0.0</text>
<line x1="341.2" y1="142.15" x2="343.8" y2="142.15" stroke="#000" stroke-width="0.9"/>
<text x="338" y="144.42" font-size="6.3" text-anchor="end" fill="#222" stroke="#222" stroke-width="0.1">0.5</text>
<line x1="341.2" y1="118.3" x2="343.8" y2="118.3" stroke="#000" stroke-width="0.9"/>
<text x="338" y="120.57" font-size="6.3" text-anchor="end" fill="#222" stroke="#222" stroke-width="0.1">1.0</text>
<line x1="343.25" y1="166" x2="411.2" y2="166" stroke="#000" stroke-width="1.1"/>
<text transform="translate(322.5,140.65) rotate(-90) scale(0.763,1)" y="2.66" font-size="7.4" text-anchor="middle" fill="#111" stroke="#111" stroke-width="0.42">Relative cell viability</text>
<rect x="349.8" y="119" width="9.3" height="47" fill="#2d4b80" stroke="#243c66" stroke-width="0.4"/>
<line x1="370.15" y1="123.5" x2="370.15" y2="125.3" stroke="#2a2a2a" stroke-width="0.85"/>
<line x1="367.63" y1="123.5" x2="372.67" y2="123.5" stroke="#2a2a2a" stroke-width="1.0"/>
<rect x="365.5" y="125.5" width="9.3" height="40.5" fill="#a90b2d" stroke="#870824" stroke-width="0.4"/>
<line x1="385.75" y1="127.6" x2="385.75" y2="134.5" stroke="#2a2a2a" stroke-width="0.85"/>
<line x1="383.18" y1="127.6" x2="388.32" y2="127.6" stroke="#2a2a2a" stroke-width="1.0"/>
<rect x="381" y="134.7" width="9.5" height="31.3" fill="#6aa842" stroke="#548634" stroke-width="0.4"/>
<line x1="401.55" y1="141.2" x2="401.55" y2="148.4" stroke="#2a2a2a" stroke-width="0.85"/>
<line x1="398.92" y1="141.2" x2="404.18" y2="141.2" stroke="#2a2a2a" stroke-width="1.0"/>
<rect x="396.7" y="148.6" width="9.7" height="17.4" fill="#4e2163" stroke="#3e1a4f" stroke-width="0.4"/>
<polyline points="354.2,116.5 354.2,111.9 405.5,111.9 405.5,124.6" fill="none" stroke="#222222" stroke-width="0.8"/>
<line x1="386.1" y1="109.5" x2="386.1" y2="115.5" stroke="#222222" stroke-width="0.8"/>
<polyline points="369.5,120 369.5,117 405.5,117 405.5,117" fill="none" stroke="#222222" stroke-width="0.8"/>
<text x="387.5" y="118.1" font-size="4.7" text-anchor="middle" fill="#4a4a4a" stroke="#4a4a4a" stroke-width="0.08">**</text>
<polyline points="385.7,126.6 385.7,121.9 405.5,121.9 405.5,122.3" fill="none" stroke="#222222" stroke-width="0.8"/>
<text x="395.6" y="123" font-size="4.7" text-anchor="middle" fill="#4a4a4a" stroke="#4a4a4a" stroke-width="0.08">*</text>
<text x="405.5" y="112.7" font-size="4.7" text-anchor="middle" fill="#4a4a4a" stroke="#4a4a4a" stroke-width="0.08">***</text>
<text x="386.1" y="112.5" font-size="4.7" text-anchor="middle" fill="#4a4a4a" stroke="#4a4a4a" stroke-width="0.08">*</text>
<text x="386.1" y="117.7" font-size="4.7" text-anchor="middle" fill="#4a4a4a" stroke="#4a4a4a" stroke-width="0.08">*</text>
<text transform="translate(479.4,103.8) scale(0.915,1)" font-size="8.65" text-anchor="middle" fill="#111" stroke="#111" stroke-width="0.16">TLX-18</text>
<line x1="444.2" y1="114.5" x2="444.2" y2="166.7" stroke="#000" stroke-width="1.1"/>
<line x1="441.6" y1="166.2" x2="444.2" y2="166.2" stroke="#000" stroke-width="0.9"/>
<text x="438.4" y="168.47" font-size="6.3" text-anchor="end" fill="#222" stroke="#222" stroke-width="0.1">0.0</text>
<line x1="441.6" y1="141.75" x2="444.2" y2="141.75" stroke="#000" stroke-width="0.9"/>
<text x="438.4" y="144.02" font-size="6.3" text-anchor="end" fill="#222" stroke="#222" stroke-width="0.1">0.5</text>
<line x1="441.6" y1="117.3" x2="444.2" y2="117.3" stroke="#000" stroke-width="0.9"/>
<text x="438.4" y="119.57" font-size="6.3" text-anchor="end" fill="#222" stroke="#222" stroke-width="0.1">1.0</text>
<line x1="443.65" y1="166.2" x2="513.7" y2="166.2" stroke="#000" stroke-width="1.1"/>
<text transform="translate(422.9,140.25) rotate(-90) scale(0.763,1)" y="2.66" font-size="7.4" text-anchor="middle" fill="#111" stroke="#111" stroke-width="0.42">Relative cell viability</text>
<rect x="450.4" y="118.3" width="9.5" height="47.9" fill="#2d4b80" stroke="#243c66" stroke-width="0.4"/>
<line x1="471.05" y1="120.3" x2="471.05" y2="134.4" stroke="#2a2a2a" stroke-width="0.85"/>
<line x1="468.48" y1="120.3" x2="473.62" y2="120.3" stroke="#2a2a2a" stroke-width="1.0"/>
<rect x="466.3" y="134.6" width="9.5" height="31.6" fill="#a90b2d" stroke="#870824" stroke-width="0.4"/>
<line x1="486.9" y1="137" x2="486.9" y2="140.8" stroke="#2a2a2a" stroke-width="0.85"/>
<line x1="484.3" y1="137" x2="489.5" y2="137" stroke="#2a2a2a" stroke-width="1.0"/>
<rect x="482.1" y="141" width="9.6" height="25.2" fill="#6aa842" stroke="#548634" stroke-width="0.4"/>
<line x1="502.75" y1="153.5" x2="502.75" y2="154.1" stroke="#2a2a2a" stroke-width="0.85"/>
<line x1="500.18" y1="153.5" x2="505.32" y2="153.5" stroke="#2a2a2a" stroke-width="1.0"/>
<rect x="498" y="154.3" width="9.5" height="11.9" fill="#4e2163" stroke="#3e1a4f" stroke-width="0.4"/>
<polyline points="454.4,117.1 454.4,113.7 503.5,113.7 503.5,118.6" fill="none" stroke="#222222" stroke-width="0.8"/>
<text x="478.95" y="114.8" font-size="4.7" text-anchor="middle" fill="#4a4a4a" stroke="#4a4a4a" stroke-width="0.08">*</text>
<text transform="translate(376.9,182.7) scale(0.915,1)" font-size="8.65" text-anchor="middle" fill="#111" stroke="#111" stroke-width="0.16">TLX-14</text>
<line x1="343.6" y1="198" x2="343.6" y2="249.1" stroke="#000" stroke-width="1.1"/>
<line x1="341" y1="248.6" x2="343.6" y2="248.6" stroke="#000" stroke-width="0.9"/>
<text x="337.8" y="250.87" font-size="6.3" text-anchor="end" fill="#222" stroke="#222" stroke-width="0.1">0.0</text>
<line x1="341" y1="224.5" x2="343.6" y2="224.5" stroke="#000" stroke-width="0.9"/>
<text x="337.8" y="226.77" font-size="6.3" text-anchor="end" fill="#222" stroke="#222" stroke-width="0.1">0.5</text>
<line x1="341" y1="200.4" x2="343.6" y2="200.4" stroke="#000" stroke-width="0.9"/>
<text x="337.8" y="202.67" font-size="6.3" text-anchor="end" fill="#222" stroke="#222" stroke-width="0.1">1.0</text>
<line x1="343.05" y1="248.6" x2="411.9" y2="248.6" stroke="#000" stroke-width="1.1"/>
<text transform="translate(322.5,223) rotate(-90) scale(0.763,1)" y="2.66" font-size="7.4" text-anchor="middle" fill="#111" stroke="#111" stroke-width="0.42">Relative cell viability</text>
<rect x="349.8" y="201.4" width="9.3" height="47.2" fill="#2d4b80" stroke="#243c66" stroke-width="0.4"/>
<line x1="370.15" y1="205.1" x2="370.15" y2="206.9" stroke="#2a2a2a" stroke-width="0.85"/>
<line x1="367.63" y1="205.1" x2="372.67" y2="205.1" stroke="#2a2a2a" stroke-width="1.0"/>
<rect x="365.5" y="207.1" width="9.3" height="41.5" fill="#a90b2d" stroke="#870824" stroke-width="0.4"/>
<line x1="385.75" y1="203" x2="385.75" y2="209.9" stroke="#2a2a2a" stroke-width="0.85"/>
<line x1="383.18" y1="203" x2="388.32" y2="203" stroke="#2a2a2a" stroke-width="1.0"/>
<rect x="381" y="210.1" width="9.5" height="38.5" fill="#6aa842" stroke="#548634" stroke-width="0.4"/>
<line x1="401.55" y1="222.4" x2="401.55" y2="226.1" stroke="#2a2a2a" stroke-width="0.85"/>
<line x1="398.92" y1="222.4" x2="404.18" y2="222.4" stroke="#2a2a2a" stroke-width="1.0"/>
<rect x="396.7" y="226.3" width="9.7" height="22.3" fill="#4e2163" stroke="#3e1a4f" stroke-width="0.4"/>
<polyline points="351.2,195.8 351.2,191.5 402.3,191.5 402.3,202.8" fill="none" stroke="#222222" stroke-width="0.8"/>
<line x1="370.1" y1="190.6" x2="370.1" y2="193" stroke="#222222" stroke-width="0.8"/>
<polyline points="370.4,200.4 370.4,195.1 402.3,195.1 402.3,195.1" fill="none" stroke="#222222" stroke-width="0.8"/>
<text x="386.35" y="196.2" font-size="4.7" text-anchor="middle" fill="#4a4a4a" stroke="#4a4a4a" stroke-width="0.08">***</text>
<polyline points="385.8,201.8 385.8,199.9 402.3,199.9 402.3,203.3" fill="none" stroke="#222222" stroke-width="0.8"/>
<text x="394.05" y="201" font-size="4.7" text-anchor="middle" fill="#4a4a4a" stroke="#4a4a4a" stroke-width="0.08">**</text>
<text x="370.1" y="192.1" font-size="4.7" text-anchor="middle" fill="#4a4a4a" stroke="#4a4a4a" stroke-width="0.08">**</text>
<text x="402.3" y="192.1" font-size="4.7" text-anchor="middle" fill="#4a4a4a" stroke="#4a4a4a" stroke-width="0.08">***</text>
<rect x="455.6" y="213.55" width="6.8" height="3.3" fill="#2d4b80"/>
<text x="465.5" y="217.04" font-size="5.1" fill="#222" stroke="#222" stroke-width="0.08">DMSO</text>
<rect x="455.6" y="222.05" width="6.8" height="3.3" fill="#a90b2d"/>
<text x="465.5" y="225.54" font-size="5.1" fill="#222" stroke="#222" stroke-width="0.08">DY131</text>
<rect x="455.6" y="230.55" width="6.8" height="3.3" fill="#6aa842"/>
<text x="465.5" y="234.04" font-size="5.1" fill="#222" stroke="#222" stroke-width="0.08">Dex</text>
<rect x="455.6" y="239.35" width="6.8" height="3.3" fill="#4e2163"/>
<text x="465.5" y="242.84" font-size="5.1" fill="#222" stroke="#222" stroke-width="0.08">Dex + DY131</text>
<text x="7.5" y="268.3" font-size="11.6" fill="#000" stroke="#000" stroke-width="0.45" font-weight="bold">D</text>
<text transform="translate(59.6,275.7) scale(0.915,1)" font-size="8.65" text-anchor="middle" fill="#111" stroke="#111" stroke-width="0.16">MOLT-4</text>
<line x1="35.2" y1="286.8" x2="35.2" y2="364.9" stroke="#000" stroke-width="1.1"/>
<line x1="32.6" y1="364.4" x2="35.2" y2="364.4" stroke="#000" stroke-width="0.9"/>
<text x="29.4" y="366.67" font-size="6.3" text-anchor="end" fill="#222" stroke="#222" stroke-width="0.1">0</text>
<line x1="32.6" y1="345.62" x2="35.2" y2="345.62" stroke="#000" stroke-width="0.9"/>
<text x="29.4" y="347.89" font-size="6.3" text-anchor="end" fill="#222" stroke="#222" stroke-width="0.1">20</text>
<line x1="32.6" y1="326.85" x2="35.2" y2="326.85" stroke="#000" stroke-width="0.9"/>
<text x="29.4" y="329.12" font-size="6.3" text-anchor="end" fill="#222" stroke="#222" stroke-width="0.1">40</text>
<line x1="32.6" y1="308.07" x2="35.2" y2="308.07" stroke="#000" stroke-width="0.9"/>
<text x="29.4" y="310.34" font-size="6.3" text-anchor="end" fill="#222" stroke="#222" stroke-width="0.1">60</text>
<line x1="32.6" y1="289.3" x2="35.2" y2="289.3" stroke="#000" stroke-width="0.9"/>
<text x="29.4" y="291.57" font-size="6.3" text-anchor="end" fill="#222" stroke="#222" stroke-width="0.1">80</text>
<line x1="34.65" y1="364.4" x2="84.6" y2="364.4" stroke="#000" stroke-width="1.1"/>
<text transform="translate(15.2,325.9) rotate(-90) scale(0.792,1)" y="2.66" font-size="7.4" text-anchor="middle" fill="#111" stroke="#111" stroke-width="0.42">Apoptotic cells (%)</text>
<line x1="43.75" y1="359.2" x2="43.75" y2="361.2" stroke="#2a2a2a" stroke-width="0.85"/>
<line x1="41.7" y1="359.2" x2="45.8" y2="359.2" stroke="#2a2a2a" stroke-width="1.0"/>
<rect x="40" y="361.4" width="7.5" height="3" fill="#2d4b80" stroke="#243c66" stroke-width="0.4"/>
<line x1="54.85" y1="354" x2="54.85" y2="357.9" stroke="#2a2a2a" stroke-width="0.85"/>
<line x1="52.85" y1="354" x2="56.85" y2="354" stroke="#2a2a2a" stroke-width="1.0"/>
<rect x="51.2" y="358.1" width="7.3" height="6.3" fill="#de8a1c" stroke="#b16e16" stroke-width="0.4"/>
<line x1="65.75" y1="354" x2="65.75" y2="357.9" stroke="#2a2a2a" stroke-width="0.85"/>
<line x1="63.75" y1="354" x2="67.75" y2="354" stroke="#2a2a2a" stroke-width="1.0"/>
<rect x="62.1" y="358.1" width="7.3" height="6.3" fill="#6aa842" stroke="#548634" stroke-width="0.4"/>
<line x1="76.95" y1="328.5" x2="76.95" y2="333.8" stroke="#2a2a2a" stroke-width="0.85"/>
<line x1="74.95" y1="328.5" x2="78.95" y2="328.5" stroke="#2a2a2a" stroke-width="1.0"/>
<rect x="73.3" y="334" width="7.3" height="30.4" fill="#f0c01e" stroke="#c09918" stroke-width="0.4"/>
<polyline points="40.6,316.3 40.6,305.2 75.6,305.2 75.6,310.3" fill="none" stroke="#222222" stroke-width="0.8"/>
<text x="58.1" y="306.3" font-size="4.7" text-anchor="middle" fill="#4a4a4a" stroke="#4a4a4a" stroke-width="0.08">**</text>
<polyline points="53.5,328.8 53.5,314.5 75.9,314.5 75.9,320.6" fill="none" stroke="#222222" stroke-width="0.8"/>
<text x="64.7" y="315.6" font-size="4.7" text-anchor="middle" fill="#4a4a4a" stroke="#4a4a4a" stroke-width="0.08">**</text>
<polyline points="65.3,342.4 65.3,323.5 76.5,323.5 76.5,326.8" fill="none" stroke="#222222" stroke-width="0.8"/>
<text x="70.9" y="324.6" font-size="4.7" text-anchor="middle" fill="#4a4a4a" stroke="#4a4a4a" stroke-width="0.08">**</text>
<text transform="translate(139.8,275.7) scale(0.915,1)" font-size="8.65" text-anchor="middle" fill="#111" stroke="#111" stroke-width="0.16">KOPTK1</text>
<line x1="115.6" y1="286.5" x2="115.6" y2="364.9" stroke="#000" stroke-width="1.1"/>
<line x1="113" y1="364.4" x2="115.6" y2="364.4" stroke="#000" stroke-width="0.9"/>
<text x="109.8" y="366.67" font-size="6.3" text-anchor="end" fill="#222" stroke="#222" stroke-width="0.1">0</text>
<line x1="113" y1="345.62" x2="115.6" y2="345.62" stroke="#000" stroke-width="0.9"/>
<text x="109.8" y="347.89" font-size="6.3" text-anchor="end" fill="#222" stroke="#222" stroke-width="0.1">20</text>
<line x1="113" y1="326.85" x2="115.6" y2="326.85" stroke="#000" stroke-width="0.9"/>
<text x="109.8" y="329.12" font-size="6.3" text-anchor="end" fill="#222" stroke="#222" stroke-width="0.1">40</text>
<line x1="113" y1="308.07" x2="115.6" y2="308.07" stroke="#000" stroke-width="0.9"/>
<text x="109.8" y="310.34" font-size="6.3" text-anchor="end" fill="#222" stroke="#222" stroke-width="0.1">60</text>
<line x1="113" y1="289.3" x2="115.6" y2="289.3" stroke="#000" stroke-width="0.9"/>
<text x="109.8" y="291.57" font-size="6.3" text-anchor="end" fill="#222" stroke="#222" stroke-width="0.1">80</text>
<line x1="115.05" y1="364.4" x2="163.8" y2="364.4" stroke="#000" stroke-width="1.1"/>
<text transform="translate(95.4,326.6) rotate(-90) scale(0.792,1)" y="2.66" font-size="7.4" text-anchor="middle" fill="#111" stroke="#111" stroke-width="0.42">Apoptotic cells (%)</text>
<line x1="123.65" y1="360.4" x2="123.65" y2="362.3" stroke="#2a2a2a" stroke-width="0.85"/>
<line x1="121.54" y1="360.4" x2="125.76" y2="360.4" stroke="#2a2a2a" stroke-width="1.0"/>
<rect x="119.8" y="362.5" width="7.7" height="1.9" fill="#2d4b80" stroke="#243c66" stroke-width="0.4"/>
<line x1="134.65" y1="338.7" x2="134.65" y2="346.9" stroke="#2a2a2a" stroke-width="0.85"/>
<line x1="132.65" y1="338.7" x2="136.65" y2="338.7" stroke="#2a2a2a" stroke-width="1.0"/>
<rect x="131" y="347.1" width="7.3" height="17.3" fill="#de8a1c" stroke="#b16e16" stroke-width="0.4"/>
<line x1="145.55" y1="350.2" x2="145.55" y2="352.7" stroke="#2a2a2a" stroke-width="0.85"/>
<line x1="143.55" y1="350.2" x2="147.55" y2="350.2" stroke="#2a2a2a" stroke-width="1.0"/>
<rect x="141.9" y="352.9" width="7.3" height="11.5" fill="#6aa842" stroke="#548634" stroke-width="0.4"/>
<line x1="156.65" y1="321.3" x2="156.65" y2="328.1" stroke="#2a2a2a" stroke-width="0.85"/>
<line x1="154.6" y1="321.3" x2="158.7" y2="321.3" stroke="#2a2a2a" stroke-width="1.0"/>
<rect x="152.9" y="328.3" width="7.5" height="36.1" fill="#f0c01e" stroke="#c09918" stroke-width="0.4"/>
<polyline points="123.9,322.3 123.9,300.4 155.9,300.4 155.9,305" fill="none" stroke="#222222" stroke-width="0.8"/>
<line x1="133.4" y1="300.4" x2="133.4" y2="304.5" stroke="#222222" stroke-width="0.8"/>
<polyline points="133.4,318.4 133.4,307.4 155.9,307.4 155.9,311.7" fill="none" stroke="#222222" stroke-width="0.8"/>
<text x="144.65" y="308.5" font-size="4.7" text-anchor="middle" fill="#4a4a4a" stroke="#4a4a4a" stroke-width="0.08">***</text>
<polyline points="145.3,327.5 145.3,316.7 156.3,316.7 156.3,318" fill="none" stroke="#222222" stroke-width="0.8"/>
<text x="133.7" y="301" font-size="4.7" text-anchor="middle" fill="#4a4a4a" stroke="#4a4a4a" stroke-width="0.08">**</text>
<text x="155.9" y="301" font-size="4.7" text-anchor="middle" fill="#4a4a4a" stroke="#4a4a4a" stroke-width="0.08">****</text>
<text x="156.2" y="316.6" font-size="4.7" text-anchor="middle" fill="#4a4a4a" stroke="#4a4a4a" stroke-width="0.08">****</text>
<text transform="translate(219.9,275.7) scale(0.915,1)" font-size="8.65" text-anchor="middle" fill="#111" stroke="#111" stroke-width="0.16">DND-41</text>
<line x1="195.8" y1="286.1" x2="195.8" y2="364.7" stroke="#000" stroke-width="1.1"/>
<line x1="193.2" y1="364.2" x2="195.8" y2="364.2" stroke="#000" stroke-width="0.9"/>
<text x="190" y="366.47" font-size="6.3" text-anchor="end" fill="#222" stroke="#222" stroke-width="0.1">0</text>
<line x1="193.2" y1="345.38" x2="195.8" y2="345.38" stroke="#000" stroke-width="0.9"/>
<text x="190" y="347.64" font-size="6.3" text-anchor="end" fill="#222" stroke="#222" stroke-width="0.1">20</text>
<line x1="193.2" y1="326.55" x2="195.8" y2="326.55" stroke="#000" stroke-width="0.9"/>
<text x="190" y="328.82" font-size="6.3" text-anchor="end" fill="#222" stroke="#222" stroke-width="0.1">40</text>
<line x1="193.2" y1="307.72" x2="195.8" y2="307.72" stroke="#000" stroke-width="0.9"/>
<text x="190" y="309.99" font-size="6.3" text-anchor="end" fill="#222" stroke="#222" stroke-width="0.1">60</text>
<line x1="193.2" y1="288.9" x2="195.8" y2="288.9" stroke="#000" stroke-width="0.9"/>
<text x="190" y="291.17" font-size="6.3" text-anchor="end" fill="#222" stroke="#222" stroke-width="0.1">80</text>
<line x1="195.25" y1="364.2" x2="244.6" y2="364.2" stroke="#000" stroke-width="1.1"/>
<text transform="translate(175.4,325.6) rotate(-90) scale(0.792,1)" y="2.66" font-size="7.4" text-anchor="middle" fill="#111" stroke="#111" stroke-width="0.42">Apoptotic cells (%)</text>
<line x1="203.8" y1="359.9" x2="203.8" y2="360.6" stroke="#2a2a2a" stroke-width="0.85"/>
<line x1="201.77" y1="359.9" x2="205.83" y2="359.9" stroke="#2a2a2a" stroke-width="1.0"/>
<rect x="200.1" y="360.8" width="7.4" height="3.4" fill="#2d4b80" stroke="#243c66" stroke-width="0.4"/>
<line x1="214.6" y1="347.2" x2="214.6" y2="349.1" stroke="#2a2a2a" stroke-width="0.85"/>
<line x1="212.57" y1="347.2" x2="216.63" y2="347.2" stroke="#2a2a2a" stroke-width="1.0"/>
<rect x="210.9" y="349.3" width="7.4" height="14.9" fill="#de8a1c" stroke="#b16e16" stroke-width="0.4"/>
<line x1="225.7" y1="331.5" x2="225.7" y2="337.1" stroke="#2a2a2a" stroke-width="0.85"/>
<line x1="223.57" y1="331.5" x2="227.83" y2="331.5" stroke="#2a2a2a" stroke-width="1.0"/>
<rect x="221.8" y="337.3" width="7.8" height="26.9" fill="#6aa842" stroke="#548634" stroke-width="0.4"/>
<line x1="236.55" y1="308.6" x2="236.55" y2="314.1" stroke="#2a2a2a" stroke-width="0.85"/>
<line x1="234.39" y1="308.6" x2="238.71" y2="308.6" stroke="#2a2a2a" stroke-width="1.0"/>
<rect x="232.6" y="314.3" width="7.9" height="49.9" fill="#f0c01e" stroke="#c09918" stroke-width="0.4"/>
<polyline points="203.5,305.4 203.5,283.4 235.3,283.4 235.3,287.7" fill="none" stroke="#222222" stroke-width="0.8"/>
<line x1="213.1" y1="283.4" x2="213.1" y2="287.2" stroke="#222222" stroke-width="0.8"/>
<line x1="223.2" y1="283.4" x2="223.2" y2="287.5" stroke="#222222" stroke-width="0.8"/>
<polyline points="212.8,303.2 212.8,292.3 235.3,292.3 235.3,296.8" fill="none" stroke="#222222" stroke-width="0.8"/>
<text x="224.05" y="293.4" font-size="4.7" text-anchor="middle" fill="#4a4a4a" stroke="#4a4a4a" stroke-width="0.08">****</text>
<polyline points="224.5,316.7 224.5,301.5 236.3,301.5 236.3,302.8" fill="none" stroke="#222222" stroke-width="0.8"/>
<polyline points="215.3,338.1 215.3,324.9 226,324.9 226,327.2" fill="none" stroke="#222222" stroke-width="0.8"/>
<text x="220.65" y="326" font-size="4.7" text-anchor="middle" fill="#4a4a4a" stroke="#4a4a4a" stroke-width="0.08">*</text>
<text x="213.1" y="284.1" font-size="4.7" text-anchor="middle" fill="#4a4a4a" stroke="#4a4a4a" stroke-width="0.08">*</text>
<text x="223.4" y="284.1" font-size="4.7" text-anchor="middle" fill="#4a4a4a" stroke="#4a4a4a" stroke-width="0.08">***</text>
<text x="235.5" y="284.1" font-size="4.7" text-anchor="middle" fill="#4a4a4a" stroke="#4a4a4a" stroke-width="0.08">***</text>
<text x="235.5" y="302.7" font-size="4.7" text-anchor="middle" fill="#4a4a4a" stroke="#4a4a4a" stroke-width="0.08">***</text>
<rect x="250.6" y="310.65" width="6.5" height="3.3" fill="#2d4b80"/>
<text x="259.8" y="314.14" font-size="5.1" fill="#222" stroke="#222" stroke-width="0.08">DMSO</text>
<rect x="250.6" y="319.05" width="6.5" height="3.3" fill="#de8a1c"/>
<text x="259.8" y="322.54" font-size="5.1" fill="#222" stroke="#222" stroke-width="0.08">GSK4716</text>
<rect x="250.6" y="327.65" width="6.5" height="3.3" fill="#6aa842"/>
<text x="259.8" y="331.14" font-size="5.1" fill="#222" stroke="#222" stroke-width="0.08">Dex</text>
<rect x="250.6" y="336.55" width="6.5" height="3.3" fill="#f0c01e"/>
<text x="259.8" y="340.04" font-size="5.1" fill="#222" stroke="#222" stroke-width="0.08">Dex + GSK4716</text>
<text x="304.6" y="268" font-size="11.6" fill="#000" stroke="#000" stroke-width="0.45" font-weight="bold">E</text>
<line x1="328.6" y1="285.2" x2="328.6" y2="364.7" stroke="#000" stroke-width="1.1"/>
<line x1="326" y1="364.2" x2="328.6" y2="364.2" stroke="#000" stroke-width="0.9"/>
<text x="322.8" y="366.47" font-size="6.3" text-anchor="end" fill="#222" stroke="#222" stroke-width="0.1">0</text>
<line x1="326" y1="345.02" x2="328.6" y2="345.02" stroke="#000" stroke-width="0.9"/>
<text x="322.8" y="347.29" font-size="6.3" text-anchor="end" fill="#222" stroke="#222" stroke-width="0.1">20</text>
<line x1="326" y1="325.85" x2="328.6" y2="325.85" stroke="#000" stroke-width="0.9"/>
<text x="322.8" y="328.12" font-size="6.3" text-anchor="end" fill="#222" stroke="#222" stroke-width="0.1">40</text>
<line x1="326" y1="306.68" x2="328.6" y2="306.68" stroke="#000" stroke-width="0.9"/>
<text x="322.8" y="308.94" font-size="6.3" text-anchor="end" fill="#222" stroke="#222" stroke-width="0.1">60</text>
<line x1="326" y1="287.5" x2="328.6" y2="287.5" stroke="#000" stroke-width="0.9"/>
<text x="322.8" y="289.77" font-size="6.3" text-anchor="end" fill="#222" stroke="#222" stroke-width="0.1">80</text>
<line x1="328.05" y1="364.2" x2="424.5" y2="364.2" stroke="#000" stroke-width="1.1"/>
<text transform="translate(308.7,324.6) rotate(-90) scale(0.792,1)" y="2.66" font-size="7.4" text-anchor="middle" fill="#111" stroke="#111" stroke-width="0.42">Apoptotic cells (%)</text>
<line x1="338.25" y1="355.9" x2="338.25" y2="358.5" stroke="#2a2a2a" stroke-width="0.85"/>
<line x1="335.88" y1="355.9" x2="340.62" y2="355.9" stroke="#2a2a2a" stroke-width="1.0"/>
<rect x="333.9" y="358.7" width="8.7" height="5.5" fill="#2d4b80" stroke="#243c66" stroke-width="0.4"/>
<line x1="351.9" y1="319.2" x2="351.9" y2="326.2" stroke="#2a2a2a" stroke-width="0.85"/>
<line x1="349.51" y1="319.2" x2="354.29" y2="319.2" stroke="#2a2a2a" stroke-width="1.0"/>
<rect x="347.5" y="326.4" width="8.8" height="37.8" fill="#de8a1c" stroke="#b16e16" stroke-width="0.4"/>
<line x1="365.3" y1="299.6" x2="365.3" y2="307" stroke="#2a2a2a" stroke-width="0.85"/>
<line x1="362.91" y1="299.6" x2="367.69" y2="299.6" stroke="#2a2a2a" stroke-width="1.0"/>
<rect x="360.9" y="307.2" width="8.8" height="57" fill="#a90b2d" stroke="#870824" stroke-width="0.4"/>
<line x1="388.55" y1="354.2" x2="388.55" y2="358" stroke="#2a2a2a" stroke-width="0.85"/>
<line x1="386.24" y1="354.2" x2="390.86" y2="354.2" stroke="#2a2a2a" stroke-width="1.0"/>
<rect x="384.3" y="358.2" width="8.5" height="6" fill="#2d4b80" stroke="#243c66" stroke-width="0.4"/>
<line x1="402" y1="353.2" x2="402" y2="357.8" stroke="#2a2a2a" stroke-width="0.85"/>
<line x1="399.61" y1="353.2" x2="404.39" y2="353.2" stroke="#2a2a2a" stroke-width="1.0"/>
<rect x="397.6" y="358" width="8.8" height="6.2" fill="#de8a1c" stroke="#b16e16" stroke-width="0.4"/>
<line x1="415.95" y1="334.7" x2="415.95" y2="338.6" stroke="#2a2a2a" stroke-width="0.85"/>
<line x1="413.64" y1="334.7" x2="418.26" y2="334.7" stroke="#2a2a2a" stroke-width="1.0"/>
<rect x="411.7" y="338.8" width="8.5" height="25.4" fill="#a90b2d" stroke="#870824" stroke-width="0.4"/>
<line x1="351.7" y1="364.2" x2="351.7" y2="366.6" stroke="#000" stroke-width="0.8"/>
<line x1="401.4" y1="364.2" x2="401.4" y2="366.6" stroke="#000" stroke-width="0.8"/>
<polyline points="357.2,296.6 357.2,286.5 409.8,286.5 409.8,325.2" fill="none" stroke="#222" stroke-width="0.85"/>
<line x1="347.3" y1="296.6" x2="366.9" y2="296.6" stroke="#222" stroke-width="0.85"/>
<line x1="399.4" y1="325.2" x2="418.2" y2="325.2" stroke="#222" stroke-width="0.85"/>
<text x="383.5" y="288.5" font-size="4.7" text-anchor="middle" fill="#4a4a4a" stroke="#4a4a4a" stroke-width="0.08">**</text>
<text transform="translate(355.4,371.3) rotate(-45)" font-size="6.3" text-anchor="end" font-style="italic" fill="#222" stroke="#222" stroke-width="0.1">NS</text>
<text transform="translate(406,371.3) rotate(-45)" font-size="6.3" text-anchor="end" font-style="italic" fill="#222" stroke="#222" stroke-width="0.1">shEsrrb_1</text>
<rect x="430.6" y="314.05" width="6.8" height="3.3" fill="#2d4b80"/>
<text x="440.6" y="317.54" font-size="5.1" fill="#222" stroke="#222" stroke-width="0.08">DMSO</text>
<rect x="430.6" y="322.45" width="6.8" height="3.3" fill="#de8a1c"/>
<text x="440.6" y="325.94" font-size="5.1" fill="#222" stroke="#222" stroke-width="0.08">GSK4716</text>
<rect x="430.6" y="331.05" width="6.8" height="3.3" fill="#a90b2d"/>
<text x="440.6" y="334.54" font-size="5.1" fill="#222" stroke="#222" stroke-width="0.08">DY131</text>
<text x="7.5" y="402" font-size="11.6" fill="#000" stroke="#000" stroke-width="0.45" font-weight="bold">F</text>
<text transform="translate(75.5,408.75) scale(0.915,1)" font-size="8.65" text-anchor="middle" fill="#111" stroke="#111" stroke-width="0.16">KOPTK1</text>
<line x1="35.9" y1="414.5" x2="35.9" y2="504.3" stroke="#000" stroke-width="1.1"/>
<line x1="33.3" y1="503.8" x2="35.9" y2="503.8" stroke="#000" stroke-width="0.9"/>
<text x="30.1" y="505.92" font-size="5.9" text-anchor="end" fill="#222" stroke="#222" stroke-width="0.1">0.0</text>
<line x1="33.3" y1="489.3" x2="35.9" y2="489.3" stroke="#000" stroke-width="0.9"/>
<text x="30.1" y="491.42" font-size="5.9" text-anchor="end" fill="#222" stroke="#222" stroke-width="0.1">0.2</text>
<line x1="33.3" y1="474.8" x2="35.9" y2="474.8" stroke="#000" stroke-width="0.9"/>
<text x="30.1" y="476.92" font-size="5.9" text-anchor="end" fill="#222" stroke="#222" stroke-width="0.1">0.4</text>
<line x1="33.3" y1="460.3" x2="35.9" y2="460.3" stroke="#000" stroke-width="0.9"/>
<text x="30.1" y="462.42" font-size="5.9" text-anchor="end" fill="#222" stroke="#222" stroke-width="0.1">0.6</text>
<line x1="33.3" y1="445.8" x2="35.9" y2="445.8" stroke="#000" stroke-width="0.9"/>
<text x="30.1" y="447.92" font-size="5.9" text-anchor="end" fill="#222" stroke="#222" stroke-width="0.1">0.8</text>
<line x1="33.3" y1="431.3" x2="35.9" y2="431.3" stroke="#000" stroke-width="0.9"/>
<text x="30.1" y="433.42" font-size="5.9" text-anchor="end" fill="#222" stroke="#222" stroke-width="0.1">1.0</text>
<line x1="33.3" y1="416.8" x2="35.9" y2="416.8" stroke="#000" stroke-width="0.9"/>
<text x="30.1" y="418.92" font-size="5.9" text-anchor="end" fill="#222" stroke="#222" stroke-width="0.1">1.2</text>
<line x1="35.35" y1="503.8" x2="115.3" y2="503.8" stroke="#000" stroke-width="1.1"/>
<line x1="35.9" y1="503.8" x2="35.9" y2="505.4" stroke="#000" stroke-width="0.8"/>
<text x="35.9" y="515.7" font-size="5.95" text-anchor="middle" fill="#222" stroke="#222" stroke-width="0.1">0.00</text>
<text x="35.9" y="525" font-size="5.95" text-anchor="middle" fill="#222" stroke="#222" stroke-width="0.1">0.00</text>
<line x1="55.2" y1="503.8" x2="55.2" y2="505.4" stroke="#000" stroke-width="0.8"/>
<text x="55.2" y="515.7" font-size="5.95" text-anchor="middle" fill="#222" stroke="#222" stroke-width="0.1">0.25</text>
<text x="55.2" y="525" font-size="5.95" text-anchor="middle" fill="#222" stroke="#222" stroke-width="0.1">2.5</text>
<line x1="74.5" y1="503.8" x2="74.5" y2="505.4" stroke="#000" stroke-width="0.8"/>
<text x="74.5" y="515.7" font-size="5.95" text-anchor="middle" fill="#222" stroke="#222" stroke-width="0.1">0.50</text>
<text x="74.5" y="525" font-size="5.95" text-anchor="middle" fill="#222" stroke="#222" stroke-width="0.1">5.0</text>
<line x1="93.8" y1="503.8" x2="93.8" y2="505.4" stroke="#000" stroke-width="0.8"/>
<text x="93.8" y="515.7" font-size="5.95" text-anchor="middle" fill="#222" stroke="#222" stroke-width="0.1">0.75</text>
<text x="93.8" y="525" font-size="5.95" text-anchor="middle" fill="#222" stroke="#222" stroke-width="0.1">7.5</text>
<line x1="113.1" y1="503.8" x2="113.1" y2="505.4" stroke="#000" stroke-width="0.8"/>
<text x="113.1" y="515.7" font-size="5.95" text-anchor="middle" fill="#222" stroke="#222" stroke-width="0.1">1.00</text>
<text x="113.1" y="525" font-size="5.95" text-anchor="middle" fill="#222" stroke="#222" stroke-width="0.1">10.0</text>
<text x="121.7" y="515.7" font-size="5.95" fill="#222" stroke="#222" stroke-width="0.1">Dexamethasone (μM)</text>
<text x="121.7" y="525" font-size="5.95" fill="#222" stroke="#222" stroke-width="0.1">GSK4716 (μM)</text>
<text transform="translate(13.7,459) rotate(-90) scale(0.778,1)" y="2.66" font-size="7.4" text-anchor="middle" fill="#111" stroke="#111" stroke-width="0.42">Relative cell viability</text>
<polyline points="36.1,431.8 40.7,431.25 45.2,436.4 55.1,451.2 74.7,453.7 113.1,480.2" fill="none" stroke="#2d4b80" stroke-width="1.1"/>
<polyline points="36.1,431.8 40.7,442.2 45.6,452.5 55.1,460.7 74.7,466.7 113.1,470.2" fill="none" stroke="#6aa842" stroke-width="1.1"/>
<polyline points="36.1,431.8 40.4,445.6 45.6,464.1 55.1,480.6 74.7,487.8 113.1,494.4" fill="none" stroke="#a90b2d" stroke-width="1.1"/>
<line x1="40.7" y1="427.3" x2="40.7" y2="434.7" stroke="#2d4b80" stroke-width="0.7"/>
<line x1="39.4" y1="427.3" x2="42" y2="427.3" stroke="#2d4b80" stroke-width="0.8"/>
<line x1="39.4" y1="434.7" x2="42" y2="434.7" stroke="#2d4b80" stroke-width="0.8"/>
<line x1="45.2" y1="433.5" x2="45.2" y2="439.4" stroke="#2d4b80" stroke-width="0.7"/>
<line x1="43.9" y1="433.5" x2="46.5" y2="433.5" stroke="#2d4b80" stroke-width="0.8"/>
<line x1="43.9" y1="439.4" x2="46.5" y2="439.4" stroke="#2d4b80" stroke-width="0.8"/>
<line x1="55.1" y1="449" x2="55.1" y2="452.5" stroke="#2d4b80" stroke-width="0.7"/>
<line x1="53.8" y1="449" x2="56.4" y2="449" stroke="#2d4b80" stroke-width="0.8"/>
<line x1="53.8" y1="452.5" x2="56.4" y2="452.5" stroke="#2d4b80" stroke-width="0.8"/>
<line x1="40.7" y1="440.8" x2="40.7" y2="443.9" stroke="#6aa842" stroke-width="0.7"/>
<line x1="39.4" y1="440.8" x2="42" y2="440.8" stroke="#6aa842" stroke-width="0.8"/>
<line x1="39.4" y1="443.9" x2="42" y2="443.9" stroke="#6aa842" stroke-width="0.8"/>
<line x1="45.6" y1="450.8" x2="45.6" y2="454.3" stroke="#6aa842" stroke-width="0.7"/>
<line x1="44.3" y1="450.8" x2="46.9" y2="450.8" stroke="#6aa842" stroke-width="0.8"/>
<line x1="44.3" y1="454.3" x2="46.9" y2="454.3" stroke="#6aa842" stroke-width="0.8"/>
<line x1="55.1" y1="459" x2="55.1" y2="462.9" stroke="#6aa842" stroke-width="0.7"/>
<line x1="53.8" y1="459" x2="56.4" y2="459" stroke="#6aa842" stroke-width="0.8"/>
<line x1="53.8" y1="462.9" x2="56.4" y2="462.9" stroke="#6aa842" stroke-width="0.8"/>
<line x1="74.7" y1="464.7" x2="74.7" y2="469.3" stroke="#6aa842" stroke-width="0.7"/>
<line x1="73.4" y1="464.7" x2="76" y2="464.7" stroke="#6aa842" stroke-width="0.8"/>
<line x1="73.4" y1="469.3" x2="76" y2="469.3" stroke="#6aa842" stroke-width="0.8"/>
<line x1="113.1" y1="465.3" x2="113.1" y2="474.5" stroke="#6aa842" stroke-width="0.7"/>
<line x1="111.8" y1="465.3" x2="114.4" y2="465.3" stroke="#6aa842" stroke-width="0.8"/>
<line x1="111.8" y1="474.5" x2="114.4" y2="474.5" stroke="#6aa842" stroke-width="0.8"/>
<line x1="40.4" y1="443.9" x2="40.4" y2="447.7" stroke="#a90b2d" stroke-width="0.7"/>
<line x1="39.1" y1="443.9" x2="41.7" y2="443.9" stroke="#a90b2d" stroke-width="0.8"/>
<line x1="39.1" y1="447.7" x2="41.7" y2="447.7" stroke="#a90b2d" stroke-width="0.8"/>
<line x1="45.6" y1="459" x2="45.6" y2="469.3" stroke="#a90b2d" stroke-width="0.7"/>
<line x1="44.3" y1="459" x2="46.9" y2="459" stroke="#a90b2d" stroke-width="0.8"/>
<line x1="44.3" y1="469.3" x2="46.9" y2="469.3" stroke="#a90b2d" stroke-width="0.8"/>
<line x1="55.1" y1="476.2" x2="55.1" y2="484.9" stroke="#a90b2d" stroke-width="0.7"/>
<line x1="53.8" y1="476.2" x2="56.4" y2="476.2" stroke="#a90b2d" stroke-width="0.8"/>
<line x1="53.8" y1="484.9" x2="56.4" y2="484.9" stroke="#a90b2d" stroke-width="0.8"/>
<line x1="74.7" y1="483.2" x2="74.7" y2="492.3" stroke="#a90b2d" stroke-width="0.7"/>
<line x1="73.4" y1="483.2" x2="76" y2="483.2" stroke="#a90b2d" stroke-width="0.8"/>
<line x1="73.4" y1="492.3" x2="76" y2="492.3" stroke="#a90b2d" stroke-width="0.8"/>
<line x1="113.1" y1="491" x2="113.1" y2="497.5" stroke="#a90b2d" stroke-width="0.7"/>
<line x1="111.8" y1="491" x2="114.4" y2="491" stroke="#a90b2d" stroke-width="0.8"/>
<line x1="111.8" y1="497.5" x2="114.4" y2="497.5" stroke="#a90b2d" stroke-width="0.8"/>
<polygon points="36.1,429.71 38.19,433.32 34.01,433.32" fill="#2d4b80"/>
<polygon points="40.7,429.16 42.79,432.77 38.61,432.77" fill="#2d4b80"/>
<polygon points="45.2,434.31 47.29,437.92 43.11,437.92" fill="#2d4b80"/>
<polygon points="55.1,449.11 57.19,452.72 53.01,452.72" fill="#2d4b80"/>
<polygon points="74.7,451.61 76.79,455.22 72.61,455.22" fill="#2d4b80"/>
<polygon points="113.1,478.11 115.19,481.72 111.01,481.72" fill="#2d4b80"/>
<rect x="34.39" y="430.09" width="3.42" height="3.42" fill="#6aa842"/>
<rect x="38.99" y="440.49" width="3.42" height="3.42" fill="#6aa842"/>
<rect x="43.89" y="450.79" width="3.42" height="3.42" fill="#6aa842"/>
<rect x="53.39" y="458.99" width="3.42" height="3.42" fill="#6aa842"/>
<rect x="72.99" y="464.99" width="3.42" height="3.42" fill="#6aa842"/>
<rect x="111.39" y="468.49" width="3.42" height="3.42" fill="#6aa842"/>
<polygon points="36.1,429.9 38,431.8 36.1,433.7 34.2,431.8" fill="#a90b2d"/>
<polygon points="40.4,443.7 42.3,445.6 40.4,447.5 38.5,445.6" fill="#a90b2d"/>
<polygon points="45.6,462.2 47.5,464.1 45.6,466 43.7,464.1" fill="#a90b2d"/>
<polygon points="55.1,478.7 57,480.6 55.1,482.5 53.2,480.6" fill="#a90b2d"/>
<polygon points="74.7,485.9 76.6,487.8 74.7,489.7 72.8,487.8" fill="#a90b2d"/>
<polygon points="113.1,492.5 115,494.4 113.1,496.3 111.2,494.4" fill="#a90b2d"/>
<line x1="120.7" y1="416.2" x2="128.2" y2="416.2" stroke="#a90b2d" stroke-width="1.1"/>
<polygon points="124.45,414.4 126.25,416.2 124.45,418 122.65,416.2" fill="#a90b2d"/>
<text x="130.7" y="418" font-size="5.1" fill="#222" stroke="#222" stroke-width="0.08">Dex + GSK4716</text>
<line x1="120.7" y1="424.8" x2="128.2" y2="424.8" stroke="#2d4b80" stroke-width="1.1"/>
<polygon points="124.45,422.82 126.43,426.24 122.47,426.24" fill="#2d4b80"/>
<text x="130.7" y="426.6" font-size="5.1" fill="#222" stroke="#222" stroke-width="0.08">GSK4716</text>
<line x1="120.7" y1="433.4" x2="128.2" y2="433.4" stroke="#6aa842" stroke-width="1.1"/>
<rect x="122.83" y="431.78" width="3.24" height="3.24" fill="#6aa842"/>
<text x="130.7" y="435.2" font-size="5.1" fill="#222" stroke="#222" stroke-width="0.08">Dexamethasone</text>
<text transform="translate(250.5,408.75) scale(0.915,1)" font-size="8.65" text-anchor="middle" fill="#111" stroke="#111" stroke-width="0.16">DND-41</text>
<line x1="211" y1="415.7" x2="211" y2="505.5" stroke="#000" stroke-width="1.1"/>
<line x1="208.4" y1="505" x2="211" y2="505" stroke="#000" stroke-width="0.9"/>
<text x="205.2" y="507.12" font-size="5.9" text-anchor="end" fill="#222" stroke="#222" stroke-width="0.1">0.0</text>
<line x1="208.4" y1="490.43" x2="211" y2="490.43" stroke="#000" stroke-width="0.9"/>
<text x="205.2" y="492.56" font-size="5.9" text-anchor="end" fill="#222" stroke="#222" stroke-width="0.1">0.2</text>
<line x1="208.4" y1="475.87" x2="211" y2="475.87" stroke="#000" stroke-width="0.9"/>
<text x="205.2" y="477.99" font-size="5.9" text-anchor="end" fill="#222" stroke="#222" stroke-width="0.1">0.4</text>
<line x1="208.4" y1="461.3" x2="211" y2="461.3" stroke="#000" stroke-width="0.9"/>
<text x="205.2" y="463.42" font-size="5.9" text-anchor="end" fill="#222" stroke="#222" stroke-width="0.1">0.6</text>
<line x1="208.4" y1="446.73" x2="211" y2="446.73" stroke="#000" stroke-width="0.9"/>
<text x="205.2" y="448.86" font-size="5.9" text-anchor="end" fill="#222" stroke="#222" stroke-width="0.1">0.8</text>
<line x1="208.4" y1="432.17" x2="211" y2="432.17" stroke="#000" stroke-width="0.9"/>
<text x="205.2" y="434.29" font-size="5.9" text-anchor="end" fill="#222" stroke="#222" stroke-width="0.1">1.0</text>
<line x1="208.4" y1="417.6" x2="211" y2="417.6" stroke="#000" stroke-width="0.9"/>
<text x="205.2" y="419.72" font-size="5.9" text-anchor="end" fill="#222" stroke="#222" stroke-width="0.1">1.2</text>
<line x1="210.45" y1="505" x2="290.3" y2="505" stroke="#000" stroke-width="1.1"/>
<line x1="211" y1="505" x2="211" y2="506.6" stroke="#000" stroke-width="0.8"/>
<text x="211" y="516.9" font-size="5.95" text-anchor="middle" fill="#222" stroke="#222" stroke-width="0.1">0.00</text>
<text x="211" y="526.2" font-size="5.95" text-anchor="middle" fill="#222" stroke="#222" stroke-width="0.1">0.00</text>
<line x1="230.28" y1="505" x2="230.28" y2="506.6" stroke="#000" stroke-width="0.8"/>
<text x="230.28" y="516.9" font-size="5.95" text-anchor="middle" fill="#222" stroke="#222" stroke-width="0.1">0.25</text>
<text x="230.28" y="526.2" font-size="5.95" text-anchor="middle" fill="#222" stroke="#222" stroke-width="0.1">2.5</text>
<line x1="249.55" y1="505" x2="249.55" y2="506.6" stroke="#000" stroke-width="0.8"/>
<text x="249.55" y="516.9" font-size="5.95" text-anchor="middle" fill="#222" stroke="#222" stroke-width="0.1">0.50</text>
<text x="249.55" y="526.2" font-size="5.95" text-anchor="middle" fill="#222" stroke="#222" stroke-width="0.1">5.0</text>
<line x1="268.83" y1="505" x2="268.83" y2="506.6" stroke="#000" stroke-width="0.8"/>
<text x="268.83" y="516.9" font-size="5.95" text-anchor="middle" fill="#222" stroke="#222" stroke-width="0.1">0.75</text>
<text x="268.83" y="526.2" font-size="5.95" text-anchor="middle" fill="#222" stroke="#222" stroke-width="0.1">7.5</text>
<line x1="288.1" y1="505" x2="288.1" y2="506.6" stroke="#000" stroke-width="0.8"/>
<text x="288.1" y="516.9" font-size="5.95" text-anchor="middle" fill="#222" stroke="#222" stroke-width="0.1">1.00</text>
<text x="288.1" y="526.2" font-size="5.95" text-anchor="middle" fill="#222" stroke="#222" stroke-width="0.1">10.0</text>
<text x="296.7" y="516.9" font-size="5.95" fill="#222" stroke="#222" stroke-width="0.1">Dexamethasone (μM)</text>
<text x="296.7" y="526.2" font-size="5.95" fill="#222" stroke="#222" stroke-width="0.1">GSK4716 (μM)</text>
<text transform="translate(189,460) rotate(-90) scale(0.778,1)" y="2.66" font-size="7.4" text-anchor="middle" fill="#111" stroke="#111" stroke-width="0.42">Relative cell viability</text>
<polyline points="211.1,432.5 215.7,435.6 220.6,442.2 230.1,452.9 249.7,458.9 288.1,476.2" fill="none" stroke="#2d4b80" stroke-width="1.1"/>
<polyline points="211.1,432.5 215.7,444.2 220.6,456.3 230.1,468.1 249.7,474.5 288.1,478.8" fill="none" stroke="#6aa842" stroke-width="1.1"/>
<polyline points="211.1,432.5 215.4,447.3 220.6,465 230.1,480.2 249.7,488.4 288.1,495.6" fill="none" stroke="#a90b2d" stroke-width="1.1"/>
<line x1="230.1" y1="447.3" x2="230.1" y2="458.4" stroke="#2d4b80" stroke-width="0.7"/>
<line x1="228.8" y1="447.3" x2="231.4" y2="447.3" stroke="#2d4b80" stroke-width="0.8"/>
<line x1="228.8" y1="458.4" x2="231.4" y2="458.4" stroke="#2d4b80" stroke-width="0.8"/>
<line x1="249.7" y1="453.2" x2="249.7" y2="464.1" stroke="#2d4b80" stroke-width="0.7"/>
<line x1="248.4" y1="453.2" x2="251" y2="453.2" stroke="#2d4b80" stroke-width="0.8"/>
<line x1="248.4" y1="464.1" x2="251" y2="464.1" stroke="#2d4b80" stroke-width="0.8"/>
<line x1="215.7" y1="440.4" x2="215.7" y2="447.7" stroke="#6aa842" stroke-width="0.7"/>
<line x1="214.4" y1="440.4" x2="217" y2="440.4" stroke="#6aa842" stroke-width="0.8"/>
<line x1="214.4" y1="447.7" x2="217" y2="447.7" stroke="#6aa842" stroke-width="0.8"/>
<line x1="220.6" y1="453.7" x2="220.6" y2="458.9" stroke="#6aa842" stroke-width="0.7"/>
<line x1="219.3" y1="453.7" x2="221.9" y2="453.7" stroke="#6aa842" stroke-width="0.8"/>
<line x1="219.3" y1="458.9" x2="221.9" y2="458.9" stroke="#6aa842" stroke-width="0.8"/>
<line x1="288.1" y1="477.1" x2="288.1" y2="480.6" stroke="#6aa842" stroke-width="0.7"/>
<line x1="286.8" y1="477.1" x2="289.4" y2="477.1" stroke="#6aa842" stroke-width="0.8"/>
<line x1="286.8" y1="480.6" x2="289.4" y2="480.6" stroke="#6aa842" stroke-width="0.8"/>
<polygon points="211.1,430.41 213.19,434.02 209.01,434.02" fill="#2d4b80"/>
<polygon points="215.7,433.51 217.79,437.12 213.61,437.12" fill="#2d4b80"/>
<polygon points="220.6,440.11 222.69,443.72 218.51,443.72" fill="#2d4b80"/>
<polygon points="230.1,450.81 232.19,454.42 228.01,454.42" fill="#2d4b80"/>
<polygon points="249.7,456.81 251.79,460.42 247.61,460.42" fill="#2d4b80"/>
<polygon points="288.1,474.11 290.19,477.72 286.01,477.72" fill="#2d4b80"/>
<rect x="209.39" y="430.79" width="3.42" height="3.42" fill="#6aa842"/>
<rect x="213.99" y="442.49" width="3.42" height="3.42" fill="#6aa842"/>
<rect x="218.89" y="454.59" width="3.42" height="3.42" fill="#6aa842"/>
<rect x="228.39" y="466.39" width="3.42" height="3.42" fill="#6aa842"/>
<rect x="247.99" y="472.79" width="3.42" height="3.42" fill="#6aa842"/>
<rect x="286.39" y="477.09" width="3.42" height="3.42" fill="#6aa842"/>
<polygon points="211.1,430.6 213,432.5 211.1,434.4 209.2,432.5" fill="#a90b2d"/>
<polygon points="215.4,445.4 217.3,447.3 215.4,449.2 213.5,447.3" fill="#a90b2d"/>
<polygon points="220.6,463.1 222.5,465 220.6,466.9 218.7,465" fill="#a90b2d"/>
<polygon points="230.1,478.3 232,480.2 230.1,482.1 228.2,480.2" fill="#a90b2d"/>
<polygon points="249.7,486.5 251.6,488.4 249.7,490.3 247.8,488.4" fill="#a90b2d"/>
<polygon points="288.1,493.7 290,495.6 288.1,497.5 286.2,495.6" fill="#a90b2d"/>
<line x1="295.8" y1="416.2" x2="303.3" y2="416.2" stroke="#a90b2d" stroke-width="1.1"/>
<polygon points="299.55,414.4 301.35,416.2 299.55,418 297.75,416.2" fill="#a90b2d"/>
<text x="305.8" y="418" font-size="5.1" fill="#222" stroke="#222" stroke-width="0.08">Dex + GSK4716</text>
<line x1="295.8" y1="424.8" x2="303.3" y2="424.8" stroke="#2d4b80" stroke-width="1.1"/>
<polygon points="299.55,422.82 301.53,426.24 297.57,426.24" fill="#2d4b80"/>
<text x="305.8" y="426.6" font-size="5.1" fill="#222" stroke="#222" stroke-width="0.08">GSK4716</text>
<line x1="295.8" y1="433.4" x2="303.3" y2="433.4" stroke="#6aa842" stroke-width="1.1"/>
<rect x="297.93" y="431.78" width="3.24" height="3.24" fill="#6aa842"/>
<text x="305.8" y="435.2" font-size="5.1" fill="#222" stroke="#222" stroke-width="0.08">Dexamethasone</text>
<text transform="translate(72.5,540.7) scale(0.915,1)" font-size="8.65" text-anchor="middle" fill="#111" stroke="#111" stroke-width="0.16">KOPTK1</text>
<text transform="translate(73,550.75) scale(0.915,1)" font-size="8.65" text-anchor="middle" fill="#111" stroke="#111" stroke-width="0.16">Combination Index</text>
<line x1="35.75" y1="557.25" x2="35.75" y2="630" stroke="#000" stroke-width="1.1"/>
<line x1="35.2" y1="629.5" x2="110.5" y2="629.5" stroke="#000" stroke-width="1.1"/>
<line x1="33.55" y1="629.5" x2="35.75" y2="629.5" stroke="#000" stroke-width="0.9"/>
<text x="30.75" y="631.5" font-size="5.9" text-anchor="end" fill="#222" stroke="#222" stroke-width="0.12">0.0</text>
<line x1="35.75" y1="629.5" x2="35.75" y2="631.7" stroke="#000" stroke-width="0.9"/>
<text x="35.75" y="640.7" font-size="5.9" text-anchor="middle" fill="#222" stroke="#222" stroke-width="0.12">0.0</text>
<line x1="33.55" y1="593.88" x2="35.75" y2="593.88" stroke="#000" stroke-width="0.9"/>
<text x="30.75" y="595.88" font-size="5.9" text-anchor="end" fill="#222" stroke="#222" stroke-width="0.12">0.5</text>
<line x1="71.88" y1="629.5" x2="71.88" y2="631.7" stroke="#000" stroke-width="0.9"/>
<text x="71.88" y="640.7" font-size="5.9" text-anchor="middle" fill="#222" stroke="#222" stroke-width="0.12">0.5</text>
<line x1="33.55" y1="558.25" x2="35.75" y2="558.25" stroke="#000" stroke-width="0.9"/>
<text x="30.75" y="560.25" font-size="5.9" text-anchor="end" fill="#222" stroke="#222" stroke-width="0.12">1.0</text>
<line x1="108" y1="629.5" x2="108" y2="631.7" stroke="#000" stroke-width="0.9"/>
<text x="108" y="640.7" font-size="5.9" text-anchor="middle" fill="#222" stroke="#222" stroke-width="0.12">1.0</text>
<line x1="35.75" y1="558.25" x2="108" y2="629.5" stroke="#24478a" stroke-width="1.15"/>
<text transform="translate(71.15,593.16) rotate(44.6) scale(0.94,1)" font-size="5.5" text-anchor="middle" fill="#4862a0" stroke="#4862a0" stroke-width="0.12" y="-1.7">Additive effect</text>
<text x="76.21" y="619.8" font-size="5.0" text-anchor="middle" fill="#78b24e" stroke="#78b24e" stroke-width="0.1">Synergism</text>
<text transform="translate(73.32,651.9) scale(0.61,1)" font-size="8.4" text-anchor="middle" fill="#1a1a1a" stroke="#1a1a1a" stroke-width="0.3">GSK4716</text>
<text transform="translate(13.4,592.5) rotate(-90) scale(0.603,1)" y="3.24" font-size="9.0" text-anchor="middle" fill="#1a1a1a" stroke="#1a1a1a" stroke-width="0.3">Dexamethasone</text>
<circle cx="35.75" cy="558.25" r="1.5" fill="#b3102e"/>
<circle cx="50.75" cy="608.25" r="1.5" fill="#b3102e"/>
<circle cx="51.25" cy="620.75" r="1.5" fill="#b3102e"/>
<circle cx="58" cy="622" r="1.5" fill="#b3102e"/>
<circle cx="64.5" cy="624.5" r="1.5" fill="#b3102e"/>
<circle cx="108" cy="629.5" r="1.5" fill="#b3102e"/>
<text transform="translate(247.5,540.7) scale(0.915,1)" font-size="8.65" text-anchor="middle" fill="#111" stroke="#111" stroke-width="0.16">DND-41</text>
<text transform="translate(248,550.75) scale(0.915,1)" font-size="8.65" text-anchor="middle" fill="#111" stroke="#111" stroke-width="0.16">Combination Index</text>
<line x1="210.5" y1="558" x2="210.5" y2="630" stroke="#000" stroke-width="1.1"/>
<line x1="209.95" y1="629.5" x2="284.5" y2="629.5" stroke="#000" stroke-width="1.1"/>
<line x1="208.3" y1="629.5" x2="210.5" y2="629.5" stroke="#000" stroke-width="0.9"/>
<text x="205.5" y="631.5" font-size="5.9" text-anchor="end" fill="#222" stroke="#222" stroke-width="0.12">0.0</text>
<line x1="210.5" y1="629.5" x2="210.5" y2="631.7" stroke="#000" stroke-width="0.9"/>
<text x="210.5" y="640.7" font-size="5.9" text-anchor="middle" fill="#222" stroke="#222" stroke-width="0.12">0.0</text>
<line x1="208.3" y1="594.25" x2="210.5" y2="594.25" stroke="#000" stroke-width="0.9"/>
<text x="205.5" y="596.25" font-size="5.9" text-anchor="end" fill="#222" stroke="#222" stroke-width="0.12">0.5</text>
<line x1="246.25" y1="629.5" x2="246.25" y2="631.7" stroke="#000" stroke-width="0.9"/>
<text x="246.25" y="640.7" font-size="5.9" text-anchor="middle" fill="#222" stroke="#222" stroke-width="0.12">0.5</text>
<line x1="208.3" y1="559" x2="210.5" y2="559" stroke="#000" stroke-width="0.9"/>
<text x="205.5" y="561" font-size="5.9" text-anchor="end" fill="#222" stroke="#222" stroke-width="0.12">1.0</text>
<line x1="282" y1="629.5" x2="282" y2="631.7" stroke="#000" stroke-width="0.9"/>
<text x="282" y="640.7" font-size="5.9" text-anchor="middle" fill="#222" stroke="#222" stroke-width="0.12">1.0</text>
<line x1="210.5" y1="559" x2="282" y2="629.5" stroke="#24478a" stroke-width="1.15"/>
<text transform="translate(245.53,593.54) rotate(44.6) scale(0.94,1)" font-size="5.5" text-anchor="middle" fill="#4862a0" stroke="#4862a0" stroke-width="0.12" y="-1.7">Additive effect</text>
<text x="250.54" y="619.8" font-size="5.0" text-anchor="middle" fill="#78b24e" stroke="#78b24e" stroke-width="0.1">Synergism</text>
<text transform="translate(247.68,651.9) scale(0.61,1)" font-size="8.4" text-anchor="middle" fill="#1a1a1a" stroke="#1a1a1a" stroke-width="0.3">GSK4716</text>
<text transform="translate(188,592.5) rotate(-90) scale(0.603,1)" y="3.24" font-size="9.0" text-anchor="middle" fill="#1a1a1a" stroke="#1a1a1a" stroke-width="0.3">Dexamethasone</text>
<circle cx="210.5" cy="559" r="1.5" fill="#b3102e"/>
<circle cx="226.25" cy="594.25" r="1.5" fill="#b3102e"/>
<circle cx="224.25" cy="608.25" r="1.5" fill="#b3102e"/>
<circle cx="227.25" cy="609.5" r="1.5" fill="#b3102e"/>
<circle cx="227.5" cy="614.5" r="1.5" fill="#b3102e"/>
<circle cx="282" cy="629.5" r="1.5" fill="#b3102e"/>
<rect x="0.6" y="0.6" width="518.8" height="659.8" fill="none" stroke="#000" stroke-width="1.3"/>
</svg>
</body></html>
